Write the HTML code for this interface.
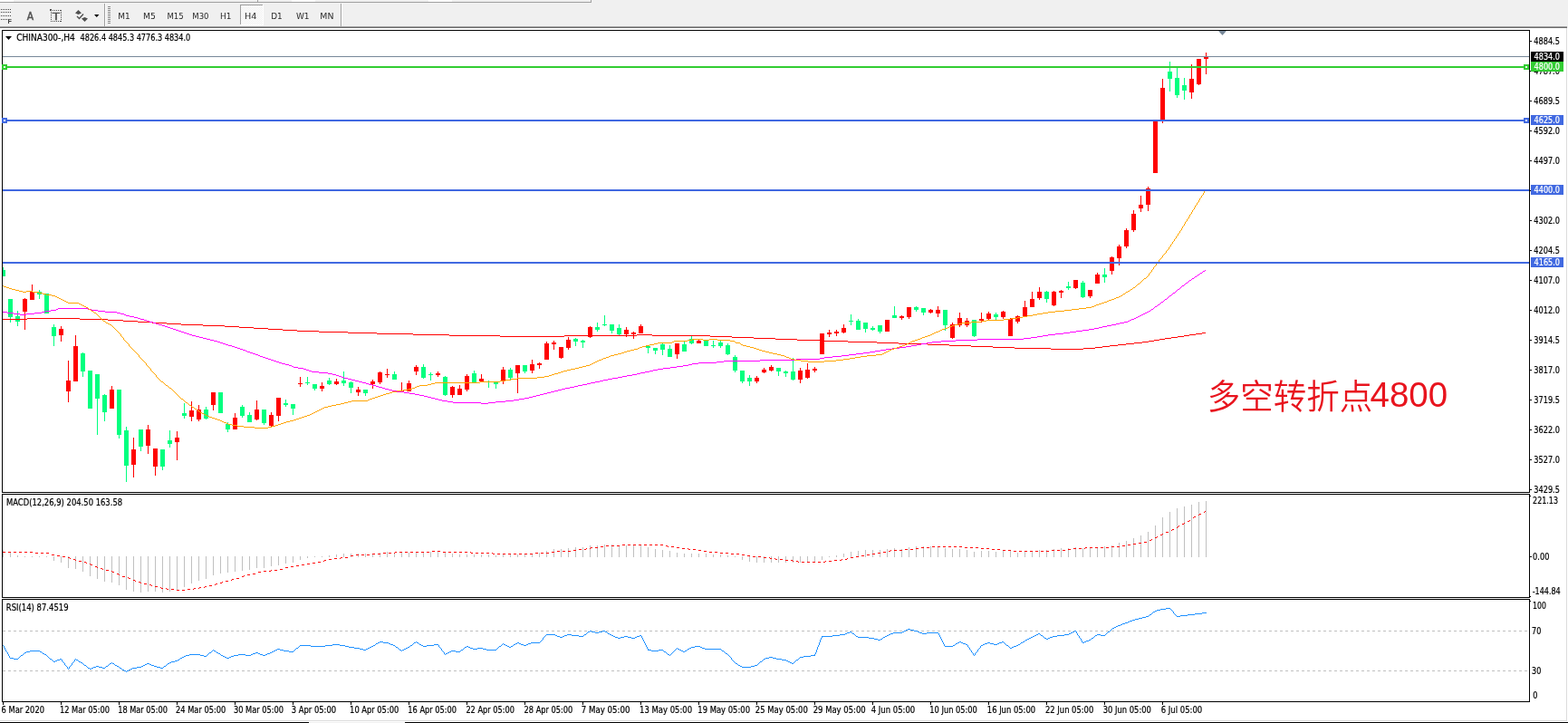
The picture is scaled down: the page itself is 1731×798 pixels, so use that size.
<!DOCTYPE html><html><head><meta charset="utf-8"><title>CHINA300-,H4</title><style>
html,body{margin:0;padding:0;background:#f0f0f0;width:1731px;height:798px;overflow:hidden}
svg{display:block;font-family:'DejaVu Sans Condensed', 'DejaVu Sans', 'Liberation Sans', sans-serif}
</style></head><body>
<svg width="1731" height="798" viewBox="0 0 1731 798">
<defs><clipPath id="cm"><rect x="3" y="34" width="1685" height="509"/></clipPath><clipPath id="cmacd"><rect x="3" y="546" width="1685" height="113"/></clipPath><clipPath id="crsi"><rect x="3" y="662" width="1685" height="112"/></clipPath></defs>
<g shape-rendering="crispEdges">
<rect x="0" y="0" width="1731" height="798" fill="#f0f0f0"/>
<rect x="0" y="0" width="15" height="2" fill="#ffffff"/>
<rect x="322" y="0" width="26" height="2" fill="#ffffff"/>
<rect x="473" y="0" width="26" height="2" fill="#ffffff"/>
<rect x="0" y="2" width="653" height="1" fill="#a0a0a0"/>
<rect x="652" y="0" width="1" height="3" fill="#a0a0a0"/>
<rect x="284" y="0" width="1" height="2" fill="#a0a0a0"/>
<rect x="0" y="29" width="1730" height="1" fill="#a0a0a0"/>
<rect x="0" y="30" width="1730" height="1" fill="#6a6a6a"/>
<rect x="0" y="31" width="1729" height="764" fill="#ffffff"/>
<rect x="1729" y="31" width="1" height="765" fill="#dcdcdc"/>
<rect x="1730" y="31" width="1" height="765" fill="#ffffff"/>
<rect x="0" y="795" width="1730" height="1" fill="#dcdcdc"/>
<rect x="0" y="796" width="1731" height="1" fill="#ffffff"/>
<rect x="0" y="797" width="341" height="1" fill="#000000"/>
<rect x="447" y="797" width="1284" height="1" fill="#000000"/>
</g>
<g shape-rendering="crispEdges">
<rect x="115" y="4" width="1" height="25" fill="#a0a0a0"/>
<rect x="116" y="4" width="1" height="25" fill="#ffffff"/>
<rect x="376" y="4" width="1" height="25" fill="#a0a0a0"/>
<rect x="377" y="4" width="1" height="25" fill="#ffffff"/>
<rect x="119" y="7" width="3" height="1" fill="#8a8a8a"/>
<rect x="119" y="9" width="3" height="1" fill="#8a8a8a"/>
<rect x="119" y="11" width="3" height="1" fill="#8a8a8a"/>
<rect x="119" y="13" width="3" height="1" fill="#8a8a8a"/>
<rect x="119" y="15" width="3" height="1" fill="#8a8a8a"/>
<rect x="119" y="17" width="3" height="1" fill="#8a8a8a"/>
<rect x="119" y="19" width="3" height="1" fill="#8a8a8a"/>
<rect x="119" y="21" width="3" height="1" fill="#8a8a8a"/>
<rect x="119" y="23" width="3" height="1" fill="#8a8a8a"/>
<rect x="119" y="25" width="3" height="1" fill="#8a8a8a"/>
<rect x="1" y="10" width="1" height="1" fill="#404040"/>
<rect x="3" y="10" width="1" height="1" fill="#404040"/>
<rect x="5" y="10" width="1" height="1" fill="#404040"/>
<rect x="7" y="10" width="1" height="1" fill="#404040"/>
<rect x="9" y="10" width="1" height="1" fill="#404040"/>
<rect x="11" y="10" width="1" height="1" fill="#404040"/>
<rect x="1" y="13" width="1" height="1" fill="#404040"/>
<rect x="3" y="13" width="1" height="1" fill="#404040"/>
<rect x="5" y="13" width="1" height="1" fill="#404040"/>
<rect x="7" y="13" width="1" height="1" fill="#404040"/>
<rect x="9" y="13" width="1" height="1" fill="#404040"/>
<rect x="11" y="13" width="1" height="1" fill="#404040"/>
<rect x="1" y="17" width="1" height="1" fill="#404040"/>
<rect x="3" y="17" width="1" height="1" fill="#404040"/>
<rect x="5" y="17" width="1" height="1" fill="#404040"/>
<rect x="7" y="17" width="1" height="1" fill="#404040"/>
<rect x="9" y="17" width="1" height="1" fill="#404040"/>
<rect x="11" y="17" width="1" height="1" fill="#404040"/>
<rect x="1" y="21" width="1" height="1" fill="#404040"/>
<rect x="3" y="21" width="1" height="1" fill="#404040"/>
<rect x="5" y="21" width="1" height="1" fill="#404040"/>
<rect x="7" y="21" width="1" height="1" fill="#404040"/>
</g>
<text x="8.6" y="26.1" font-size="7" fill="#404040" textLength="4.4" lengthAdjust="spacingAndGlyphs" font-family="Liberation Sans" font-weight="bold">F</text>
<text x="29.8" y="22" font-size="12" fill="#555555" stroke="#555555" stroke-width="0.45">A</text>
<g shape-rendering="crispEdges">
<rect x="56" y="11" width="1" height="1" fill="#505050"/>
<rect x="56" y="23" width="1" height="1" fill="#505050"/>
<rect x="58" y="11" width="1" height="1" fill="#505050"/>
<rect x="58" y="23" width="1" height="1" fill="#505050"/>
<rect x="60" y="11" width="1" height="1" fill="#505050"/>
<rect x="60" y="23" width="1" height="1" fill="#505050"/>
<rect x="62" y="11" width="1" height="1" fill="#505050"/>
<rect x="62" y="23" width="1" height="1" fill="#505050"/>
<rect x="64" y="11" width="1" height="1" fill="#505050"/>
<rect x="64" y="23" width="1" height="1" fill="#505050"/>
<rect x="66" y="11" width="1" height="1" fill="#505050"/>
<rect x="66" y="23" width="1" height="1" fill="#505050"/>
<rect x="56" y="11" width="1" height="1" fill="#505050"/>
<rect x="67" y="11" width="1" height="1" fill="#505050"/>
<rect x="56" y="13" width="1" height="1" fill="#505050"/>
<rect x="67" y="13" width="1" height="1" fill="#505050"/>
<rect x="56" y="15" width="1" height="1" fill="#505050"/>
<rect x="67" y="15" width="1" height="1" fill="#505050"/>
<rect x="56" y="17" width="1" height="1" fill="#505050"/>
<rect x="67" y="17" width="1" height="1" fill="#505050"/>
<rect x="56" y="19" width="1" height="1" fill="#505050"/>
<rect x="67" y="19" width="1" height="1" fill="#505050"/>
<rect x="56" y="21" width="1" height="1" fill="#505050"/>
<rect x="67" y="21" width="1" height="1" fill="#505050"/>
<rect x="56" y="23" width="1" height="1" fill="#505050"/>
<rect x="67" y="23" width="1" height="1" fill="#505050"/>
<rect x="55" y="10" width="2" height="2" fill="#505050"/>
</g>
<text x="57.6" y="22" font-size="11.5" fill="#505050" textLength="8.8" lengthAdjust="spacingAndGlyphs" font-family="Liberation Sans" stroke="#505050" stroke-width="0.5">T</text>
<g fill="#505050">
<polygon points="83,14.5 86.5,11 90,14.5 86.5,16"/>
<polygon points="90,20.5 93.5,19 97,20.5 93.5,24"/>
</g>
<polyline points="85,18 87.5,20.5 92,15.5" fill="none" stroke="#505050" stroke-width="1.4"/>
<polygon points="104,16 109.5,16 106.75,19" fill="#000"/>
<g shape-rendering="crispEdges">
<defs><pattern id="chk" x="0" y="0" width="2" height="2" patternUnits="userSpaceOnUse"><rect width="2" height="2" fill="#ffffff"/><rect width="1" height="1" fill="#f0f0f0"/><rect x="1" y="1" width="1" height="1" fill="#f0f0f0"/></pattern></defs>
<rect x="265" y="5" width="26" height="23" fill="#ffffff"/>
<rect x="266" y="6" width="24" height="21" fill="url(#chk)"/>
<rect x="265" y="5" width="25" height="1" fill="#a0a0a0"/>
<rect x="265" y="5" width="1" height="22" fill="#a0a0a0"/>
</g>
<text x="130.2" y="21.3" font-size="9.3" fill="#2a2a2a" textLength="13.4" lengthAdjust="spacingAndGlyphs" >M1</text>
<text x="158.1" y="21.3" font-size="9.3" fill="#2a2a2a" textLength="13.8" lengthAdjust="spacingAndGlyphs" >M5</text>
<text x="184.4" y="21.3" font-size="9.3" fill="#2a2a2a" textLength="18.2" lengthAdjust="spacingAndGlyphs" >M15</text>
<text x="212.3" y="21.3" font-size="9.3" fill="#2a2a2a" textLength="18.2" lengthAdjust="spacingAndGlyphs" >M30</text>
<text x="243.1" y="21.3" font-size="9.3" fill="#2a2a2a" textLength="12.4" lengthAdjust="spacingAndGlyphs" >H1</text>
<text x="270.1" y="21.3" font-size="9.3" fill="#2a2a2a" textLength="13.4" lengthAdjust="spacingAndGlyphs" >H4</text>
<text x="299.2" y="21.3" font-size="9.3" fill="#2a2a2a" textLength="12.5" lengthAdjust="spacingAndGlyphs" >D1</text>
<text x="326.9" y="21.3" font-size="9.3" fill="#2a2a2a" textLength="14.7" lengthAdjust="spacingAndGlyphs" >W1</text>
<text x="353.3" y="21.3" font-size="9.3" fill="#2a2a2a" textLength="15.1" lengthAdjust="spacingAndGlyphs" >MN</text>
<g shape-rendering="crispEdges" fill="#000">
<rect x="2" y="33" width="1687" height="1"/>
<rect x="2" y="543" width="1687" height="1"/>
<rect x="2" y="33" width="1" height="511"/>
<rect x="1688" y="33" width="1" height="511"/>
<rect x="2" y="545" width="1687" height="1"/>
<rect x="2" y="659" width="1687" height="1"/>
<rect x="2" y="545" width="1" height="115"/>
<rect x="1688" y="545" width="1" height="115"/>
<rect x="2" y="661" width="1687" height="1"/>
<rect x="2" y="774" width="1687" height="1"/>
<rect x="2" y="661" width="1" height="114"/>
<rect x="1688" y="661" width="1" height="114"/>
<rect x="1689" y="45" width="2" height="1"/>
<rect x="1689" y="78" width="2" height="1"/>
<rect x="1689" y="111" width="2" height="1"/>
<rect x="1689" y="144" width="2" height="1"/>
<rect x="1689" y="177" width="2" height="1"/>
<rect x="1689" y="210" width="2" height="1"/>
<rect x="1689" y="243" width="2" height="1"/>
<rect x="1689" y="276" width="2" height="1"/>
<rect x="1689" y="309" width="2" height="1"/>
<rect x="1689" y="342" width="2" height="1"/>
<rect x="1689" y="375" width="2" height="1"/>
<rect x="1689" y="408" width="2" height="1"/>
<rect x="1689" y="441" width="2" height="1"/>
<rect x="1689" y="474" width="2" height="1"/>
<rect x="1689" y="507" width="2" height="1"/>
<rect x="1689" y="540" width="2" height="1"/>
<rect x="1689" y="547" width="1" height="1"/>
<rect x="1689" y="614" width="2" height="1"/>
<rect x="1689" y="658" width="1" height="1"/>
<rect x="1689" y="663" width="1" height="1"/>
<rect x="3" y="775" width="1" height="3"/>
<rect x="67" y="775" width="1" height="3"/>
<rect x="131" y="775" width="1" height="3"/>
<rect x="195" y="775" width="1" height="3"/>
<rect x="259" y="775" width="1" height="3"/>
<rect x="323" y="775" width="1" height="3"/>
<rect x="387" y="775" width="1" height="3"/>
<rect x="451" y="775" width="1" height="3"/>
<rect x="515" y="775" width="1" height="3"/>
<rect x="579" y="775" width="1" height="3"/>
<rect x="643" y="775" width="1" height="3"/>
<rect x="707" y="775" width="1" height="3"/>
<rect x="771" y="775" width="1" height="3"/>
<rect x="835" y="775" width="1" height="3"/>
<rect x="899" y="775" width="1" height="3"/>
<rect x="963" y="775" width="1" height="3"/>
<rect x="1027" y="775" width="1" height="3"/>
<rect x="1091" y="775" width="1" height="3"/>
<rect x="1155" y="775" width="1" height="3"/>
<rect x="1219" y="775" width="1" height="3"/>
<rect x="1283" y="775" width="1" height="3"/>
</g>
<g clip-path="url(#cm)">
<g shape-rendering="crispEdges">
<rect x="3" y="295" width="1" height="10" fill="#00FF7F"/>
<rect x="1" y="298" width="5" height="7" fill="#00FF7F"/>
<rect x="11" y="330" width="1" height="26" fill="#00FF7F"/>
<rect x="9" y="330" width="5" height="20" fill="#00FF7F"/>
<rect x="19" y="343" width="1" height="17" fill="#00FF7F"/>
<rect x="17" y="349" width="5" height="6" fill="#00FF7F"/>
<rect x="27" y="329" width="1" height="35" fill="#FF0000"/>
<rect x="25" y="330" width="5" height="14" fill="#FF0000"/>
<rect x="35" y="314" width="1" height="17" fill="#FF0000"/>
<rect x="33" y="322" width="5" height="9" fill="#FF0000"/>
<rect x="43" y="320" width="1" height="10" fill="#00FF7F"/>
<rect x="41" y="322" width="5" height="3" fill="#00FF7F"/>
<rect x="51" y="324" width="1" height="22" fill="#00FF7F"/>
<rect x="49" y="324" width="5" height="22" fill="#00FF7F"/>
<rect x="59" y="358" width="1" height="24" fill="#00FF7F"/>
<rect x="57" y="361" width="5" height="10" fill="#00FF7F"/>
<rect x="67" y="360" width="1" height="17" fill="#FF0000"/>
<rect x="65" y="363" width="5" height="7" fill="#FF0000"/>
<rect x="75" y="398" width="1" height="46" fill="#FF0000"/>
<rect x="73" y="420" width="5" height="12" fill="#FF0000"/>
<rect x="83" y="370" width="1" height="51" fill="#FF0000"/>
<rect x="81" y="382" width="5" height="39" fill="#FF0000"/>
<rect x="91" y="389" width="1" height="27" fill="#00FF7F"/>
<rect x="89" y="390" width="5" height="20" fill="#00FF7F"/>
<rect x="99" y="409" width="1" height="42" fill="#00FF7F"/>
<rect x="97" y="409" width="5" height="42" fill="#00FF7F"/>
<rect x="107" y="413" width="1" height="67" fill="#00FF7F"/>
<rect x="105" y="413" width="5" height="27" fill="#00FF7F"/>
<rect x="115" y="435" width="1" height="30" fill="#00FF7F"/>
<rect x="113" y="436" width="5" height="19" fill="#00FF7F"/>
<rect x="123" y="426" width="1" height="25" fill="#FF0000"/>
<rect x="121" y="430" width="5" height="21" fill="#FF0000"/>
<rect x="131" y="430" width="1" height="54" fill="#00FF7F"/>
<rect x="129" y="430" width="5" height="50" fill="#00FF7F"/>
<rect x="139" y="471" width="1" height="61" fill="#00FF7F"/>
<rect x="137" y="475" width="5" height="39" fill="#00FF7F"/>
<rect x="147" y="483" width="1" height="44" fill="#FF0000"/>
<rect x="145" y="496" width="5" height="17" fill="#FF0000"/>
<rect x="155" y="474" width="1" height="24" fill="#00FF7F"/>
<rect x="153" y="474" width="5" height="19" fill="#00FF7F"/>
<rect x="163" y="469" width="1" height="32" fill="#FF0000"/>
<rect x="161" y="474" width="5" height="18" fill="#FF0000"/>
<rect x="171" y="495" width="1" height="30" fill="#FF0000"/>
<rect x="169" y="495" width="5" height="20" fill="#FF0000"/>
<rect x="179" y="496" width="1" height="23" fill="#00FF7F"/>
<rect x="177" y="496" width="5" height="19" fill="#00FF7F"/>
<rect x="187" y="475" width="1" height="19" fill="#00FF7F"/>
<rect x="185" y="486" width="5" height="4" fill="#00FF7F"/>
<rect x="195" y="476" width="1" height="32" fill="#FF0000"/>
<rect x="193" y="483" width="5" height="5" fill="#FF0000"/>
<rect x="203" y="445" width="1" height="17" fill="#00FF7F"/>
<rect x="201" y="456" width="5" height="3" fill="#00FF7F"/>
<rect x="211" y="443" width="1" height="22" fill="#FF0000"/>
<rect x="209" y="453" width="5" height="7" fill="#FF0000"/>
<rect x="219" y="447" width="1" height="18" fill="#FF0000"/>
<rect x="217" y="452" width="5" height="11" fill="#FF0000"/>
<rect x="227" y="449" width="1" height="14" fill="#00FF7F"/>
<rect x="225" y="452" width="5" height="10" fill="#00FF7F"/>
<rect x="235" y="433" width="1" height="20" fill="#FF0000"/>
<rect x="233" y="433" width="5" height="14" fill="#FF0000"/>
<rect x="243" y="433" width="1" height="23" fill="#00FF7F"/>
<rect x="241" y="433" width="5" height="23" fill="#00FF7F"/>
<rect x="251" y="466" width="1" height="11" fill="#00FF7F"/>
<rect x="249" y="468" width="5" height="6" fill="#00FF7F"/>
<rect x="259" y="456" width="1" height="18" fill="#FF0000"/>
<rect x="257" y="461" width="5" height="13" fill="#FF0000"/>
<rect x="267" y="447" width="1" height="14" fill="#00FF7F"/>
<rect x="265" y="449" width="5" height="10" fill="#00FF7F"/>
<rect x="275" y="455" width="1" height="11" fill="#00FF7F"/>
<rect x="273" y="458" width="5" height="8" fill="#00FF7F"/>
<rect x="283" y="442" width="1" height="22" fill="#FF0000"/>
<rect x="281" y="452" width="5" height="11" fill="#FF0000"/>
<rect x="291" y="452" width="1" height="17" fill="#00FF7F"/>
<rect x="289" y="452" width="5" height="15" fill="#00FF7F"/>
<rect x="299" y="455" width="1" height="16" fill="#FF0000"/>
<rect x="297" y="458" width="5" height="12" fill="#FF0000"/>
<rect x="307" y="439" width="1" height="26" fill="#FF0000"/>
<rect x="305" y="439" width="5" height="20" fill="#FF0000"/>
<rect x="315" y="441" width="1" height="8" fill="#00FF7F"/>
<rect x="313" y="445" width="5" height="2" fill="#00FF7F"/>
<rect x="323" y="446" width="1" height="12" fill="#00FF7F"/>
<rect x="321" y="446" width="5" height="5" fill="#00FF7F"/>
<rect x="331" y="416" width="1" height="11" fill="#FF0000"/>
<rect x="329" y="423" width="5" height="1" fill="#FF0000"/>
<rect x="339" y="416" width="1" height="9" fill="#00FF7F"/>
<rect x="337" y="422" width="5" height="1" fill="#00FF7F"/>
<rect x="347" y="424" width="1" height="7" fill="#00FF7F"/>
<rect x="345" y="424" width="5" height="5" fill="#00FF7F"/>
<rect x="355" y="422" width="1" height="10" fill="#FF0000"/>
<rect x="353" y="426" width="5" height="3" fill="#FF0000"/>
<rect x="363" y="417" width="1" height="8" fill="#00FF7F"/>
<rect x="361" y="420" width="5" height="4" fill="#00FF7F"/>
<rect x="371" y="418" width="1" height="7" fill="#FF0000"/>
<rect x="369" y="421" width="5" height="3" fill="#FF0000"/>
<rect x="379" y="410" width="1" height="16" fill="#00FF7F"/>
<rect x="377" y="420" width="5" height="3" fill="#00FF7F"/>
<rect x="387" y="421" width="1" height="13" fill="#00FF7F"/>
<rect x="385" y="422" width="5" height="6" fill="#00FF7F"/>
<rect x="395" y="427" width="1" height="10" fill="#FF0000"/>
<rect x="393" y="430" width="5" height="3" fill="#FF0000"/>
<rect x="403" y="430" width="1" height="7" fill="#00FF7F"/>
<rect x="401" y="430" width="5" height="4" fill="#00FF7F"/>
<rect x="411" y="419" width="1" height="10" fill="#FF0000"/>
<rect x="409" y="421" width="5" height="3" fill="#FF0000"/>
<rect x="419" y="410" width="1" height="14" fill="#FF0000"/>
<rect x="417" y="411" width="5" height="11" fill="#FF0000"/>
<rect x="427" y="407" width="1" height="10" fill="#FF0000"/>
<rect x="425" y="413" width="5" height="1" fill="#FF0000"/>
<rect x="435" y="410" width="1" height="9" fill="#00FF7F"/>
<rect x="433" y="413" width="5" height="6" fill="#00FF7F"/>
<rect x="443" y="422" width="1" height="10" fill="#FF0000"/>
<rect x="441" y="431" width="5" height="1" fill="#FF0000"/>
<rect x="451" y="420" width="1" height="12" fill="#FF0000"/>
<rect x="449" y="423" width="5" height="9" fill="#FF0000"/>
<rect x="459" y="403" width="1" height="11" fill="#FF0000"/>
<rect x="457" y="405" width="5" height="5" fill="#FF0000"/>
<rect x="467" y="402" width="1" height="16" fill="#00FF7F"/>
<rect x="465" y="405" width="5" height="12" fill="#00FF7F"/>
<rect x="475" y="411" width="1" height="9" fill="#00FF7F"/>
<rect x="473" y="413" width="5" height="1" fill="#00FF7F"/>
<rect x="483" y="410" width="1" height="6" fill="#FF0000"/>
<rect x="481" y="412" width="5" height="2" fill="#FF0000"/>
<rect x="491" y="415" width="1" height="22" fill="#00FF7F"/>
<rect x="489" y="416" width="5" height="20" fill="#00FF7F"/>
<rect x="499" y="426" width="1" height="13" fill="#FF0000"/>
<rect x="497" y="427" width="5" height="9" fill="#FF0000"/>
<rect x="507" y="425" width="1" height="11" fill="#FF0000"/>
<rect x="505" y="429" width="5" height="7" fill="#FF0000"/>
<rect x="515" y="413" width="1" height="19" fill="#FF0000"/>
<rect x="513" y="415" width="5" height="15" fill="#FF0000"/>
<rect x="523" y="409" width="1" height="14" fill="#00FF7F"/>
<rect x="521" y="412" width="5" height="10" fill="#00FF7F"/>
<rect x="531" y="413" width="1" height="8" fill="#FF0000"/>
<rect x="529" y="418" width="5" height="3" fill="#FF0000"/>
<rect x="539" y="420" width="1" height="8" fill="#00FF7F"/>
<rect x="537" y="421" width="5" height="1" fill="#00FF7F"/>
<rect x="547" y="421" width="1" height="8" fill="#00FF7F"/>
<rect x="545" y="421" width="5" height="3" fill="#00FF7F"/>
<rect x="555" y="405" width="1" height="19" fill="#FF0000"/>
<rect x="553" y="408" width="5" height="12" fill="#FF0000"/>
<rect x="563" y="406" width="1" height="13" fill="#00FF7F"/>
<rect x="561" y="408" width="5" height="9" fill="#00FF7F"/>
<rect x="571" y="403" width="1" height="31" fill="#FF0000"/>
<rect x="569" y="403" width="5" height="9" fill="#FF0000"/>
<rect x="579" y="403" width="1" height="9" fill="#00FF7F"/>
<rect x="577" y="403" width="5" height="7" fill="#00FF7F"/>
<rect x="587" y="397" width="1" height="15" fill="#FF0000"/>
<rect x="585" y="402" width="5" height="7" fill="#FF0000"/>
<rect x="595" y="400" width="1" height="7" fill="#FF0000"/>
<rect x="593" y="401" width="5" height="2" fill="#FF0000"/>
<rect x="603" y="377" width="1" height="20" fill="#FF0000"/>
<rect x="601" y="379" width="5" height="18" fill="#FF0000"/>
<rect x="611" y="376" width="1" height="10" fill="#FF0000"/>
<rect x="609" y="378" width="5" height="2" fill="#FF0000"/>
<rect x="619" y="383" width="1" height="13" fill="#FF0000"/>
<rect x="617" y="383" width="5" height="12" fill="#FF0000"/>
<rect x="627" y="372" width="1" height="14" fill="#FF0000"/>
<rect x="625" y="375" width="5" height="9" fill="#FF0000"/>
<rect x="635" y="373" width="1" height="9" fill="#00FF7F"/>
<rect x="633" y="374" width="5" height="3" fill="#00FF7F"/>
<rect x="643" y="375" width="1" height="9" fill="#00FF7F"/>
<rect x="641" y="376" width="5" height="2" fill="#00FF7F"/>
<rect x="651" y="360" width="1" height="13" fill="#FF0000"/>
<rect x="649" y="361" width="5" height="11" fill="#FF0000"/>
<rect x="659" y="356" width="1" height="10" fill="#00FF7F"/>
<rect x="657" y="361" width="5" height="3" fill="#00FF7F"/>
<rect x="667" y="348" width="1" height="12" fill="#00FF7F"/>
<rect x="665" y="358" width="5" height="1" fill="#00FF7F"/>
<rect x="675" y="358" width="1" height="10" fill="#00FF7F"/>
<rect x="673" y="358" width="5" height="7" fill="#00FF7F"/>
<rect x="683" y="358" width="1" height="12" fill="#00FF7F"/>
<rect x="681" y="362" width="5" height="7" fill="#00FF7F"/>
<rect x="691" y="361" width="1" height="11" fill="#FF0000"/>
<rect x="689" y="364" width="5" height="5" fill="#FF0000"/>
<rect x="699" y="366" width="1" height="8" fill="#FF0000"/>
<rect x="697" y="367" width="5" height="2" fill="#FF0000"/>
<rect x="707" y="358" width="1" height="10" fill="#FF0000"/>
<rect x="705" y="360" width="5" height="8" fill="#FF0000"/>
<rect x="715" y="382" width="1" height="8" fill="#00FF7F"/>
<rect x="713" y="382" width="5" height="2" fill="#00FF7F"/>
<rect x="723" y="384" width="1" height="7" fill="#00FF7F"/>
<rect x="721" y="384" width="5" height="3" fill="#00FF7F"/>
<rect x="731" y="379" width="1" height="13" fill="#00FF7F"/>
<rect x="729" y="380" width="5" height="6" fill="#00FF7F"/>
<rect x="739" y="381" width="1" height="13" fill="#00FF7F"/>
<rect x="737" y="385" width="5" height="9" fill="#00FF7F"/>
<rect x="747" y="379" width="1" height="17" fill="#FF0000"/>
<rect x="745" y="379" width="5" height="12" fill="#FF0000"/>
<rect x="755" y="377" width="1" height="11" fill="#00FF7F"/>
<rect x="753" y="380" width="5" height="8" fill="#00FF7F"/>
<rect x="763" y="371" width="1" height="9" fill="#00FF7F"/>
<rect x="761" y="374" width="5" height="5" fill="#00FF7F"/>
<rect x="771" y="375" width="1" height="4" fill="#FF0000"/>
<rect x="769" y="376" width="5" height="3" fill="#FF0000"/>
<rect x="779" y="376" width="1" height="6" fill="#00FF7F"/>
<rect x="777" y="376" width="5" height="6" fill="#00FF7F"/>
<rect x="787" y="376" width="1" height="8" fill="#00FF7F"/>
<rect x="785" y="381" width="5" height="1" fill="#00FF7F"/>
<rect x="795" y="376" width="1" height="8" fill="#00FF7F"/>
<rect x="793" y="378" width="5" height="4" fill="#00FF7F"/>
<rect x="803" y="379" width="1" height="13" fill="#00FF7F"/>
<rect x="801" y="381" width="5" height="10" fill="#00FF7F"/>
<rect x="811" y="392" width="1" height="19" fill="#00FF7F"/>
<rect x="809" y="394" width="5" height="15" fill="#00FF7F"/>
<rect x="819" y="409" width="1" height="14" fill="#00FF7F"/>
<rect x="817" y="409" width="5" height="12" fill="#00FF7F"/>
<rect x="827" y="414" width="1" height="12" fill="#00FF7F"/>
<rect x="825" y="417" width="5" height="4" fill="#00FF7F"/>
<rect x="835" y="415" width="1" height="8" fill="#FF0000"/>
<rect x="833" y="417" width="5" height="4" fill="#FF0000"/>
<rect x="843" y="406" width="1" height="6" fill="#FF0000"/>
<rect x="841" y="408" width="5" height="3" fill="#FF0000"/>
<rect x="851" y="403" width="1" height="7" fill="#FF0000"/>
<rect x="849" y="405" width="5" height="4" fill="#FF0000"/>
<rect x="859" y="406" width="1" height="9" fill="#00FF7F"/>
<rect x="857" y="406" width="5" height="4" fill="#00FF7F"/>
<rect x="867" y="409" width="1" height="7" fill="#00FF7F"/>
<rect x="865" y="410" width="5" height="2" fill="#00FF7F"/>
<rect x="875" y="395" width="1" height="25" fill="#00FF7F"/>
<rect x="873" y="410" width="5" height="9" fill="#00FF7F"/>
<rect x="883" y="406" width="1" height="17" fill="#FF0000"/>
<rect x="881" y="409" width="5" height="10" fill="#FF0000"/>
<rect x="891" y="401" width="1" height="17" fill="#FF0000"/>
<rect x="889" y="408" width="5" height="9" fill="#FF0000"/>
<rect x="899" y="405" width="1" height="6" fill="#FF0000"/>
<rect x="897" y="407" width="5" height="2" fill="#FF0000"/>
<rect x="907" y="368" width="1" height="23" fill="#FF0000"/>
<rect x="905" y="368" width="5" height="23" fill="#FF0000"/>
<rect x="915" y="364" width="1" height="8" fill="#FF0000"/>
<rect x="913" y="367" width="5" height="2" fill="#FF0000"/>
<rect x="923" y="364" width="1" height="7" fill="#FF0000"/>
<rect x="921" y="366" width="5" height="2" fill="#FF0000"/>
<rect x="931" y="358" width="1" height="10" fill="#FF0000"/>
<rect x="929" y="362" width="5" height="5" fill="#FF0000"/>
<rect x="939" y="347" width="1" height="12" fill="#00FF7F"/>
<rect x="937" y="354" width="5" height="1" fill="#00FF7F"/>
<rect x="947" y="352" width="1" height="12" fill="#00FF7F"/>
<rect x="945" y="354" width="5" height="10" fill="#00FF7F"/>
<rect x="955" y="356" width="1" height="11" fill="#00FF7F"/>
<rect x="953" y="356" width="5" height="7" fill="#00FF7F"/>
<rect x="963" y="360" width="1" height="5" fill="#00FF7F"/>
<rect x="961" y="362" width="5" height="2" fill="#00FF7F"/>
<rect x="971" y="359" width="1" height="9" fill="#00FF7F"/>
<rect x="969" y="359" width="5" height="7" fill="#00FF7F"/>
<rect x="979" y="353" width="1" height="13" fill="#FF0000"/>
<rect x="977" y="353" width="5" height="13" fill="#FF0000"/>
<rect x="987" y="338" width="1" height="13" fill="#00FF7F"/>
<rect x="985" y="348" width="5" height="3" fill="#00FF7F"/>
<rect x="995" y="348" width="1" height="5" fill="#FF0000"/>
<rect x="993" y="349" width="5" height="2" fill="#FF0000"/>
<rect x="1003" y="339" width="1" height="13" fill="#FF0000"/>
<rect x="1001" y="339" width="5" height="11" fill="#FF0000"/>
<rect x="1011" y="338" width="1" height="6" fill="#00FF7F"/>
<rect x="1009" y="339" width="5" height="3" fill="#00FF7F"/>
<rect x="1019" y="340" width="1" height="8" fill="#00FF7F"/>
<rect x="1017" y="340" width="5" height="5" fill="#00FF7F"/>
<rect x="1027" y="341" width="1" height="5" fill="#FF0000"/>
<rect x="1025" y="342" width="5" height="3" fill="#FF0000"/>
<rect x="1035" y="338" width="1" height="12" fill="#FF0000"/>
<rect x="1033" y="342" width="5" height="4" fill="#FF0000"/>
<rect x="1043" y="342" width="1" height="23" fill="#00FF7F"/>
<rect x="1041" y="342" width="5" height="17" fill="#00FF7F"/>
<rect x="1051" y="356" width="1" height="18" fill="#FF0000"/>
<rect x="1049" y="358" width="5" height="15" fill="#FF0000"/>
<rect x="1059" y="345" width="1" height="16" fill="#FF0000"/>
<rect x="1057" y="351" width="5" height="8" fill="#FF0000"/>
<rect x="1067" y="351" width="1" height="10" fill="#FF0000"/>
<rect x="1065" y="354" width="5" height="5" fill="#FF0000"/>
<rect x="1075" y="353" width="1" height="19" fill="#00FF7F"/>
<rect x="1073" y="353" width="5" height="18" fill="#00FF7F"/>
<rect x="1083" y="345" width="1" height="11" fill="#FF0000"/>
<rect x="1081" y="352" width="5" height="2" fill="#FF0000"/>
<rect x="1091" y="344" width="1" height="9" fill="#FF0000"/>
<rect x="1089" y="346" width="5" height="6" fill="#FF0000"/>
<rect x="1099" y="345" width="1" height="8" fill="#00FF7F"/>
<rect x="1097" y="347" width="5" height="3" fill="#00FF7F"/>
<rect x="1107" y="343" width="1" height="9" fill="#FF0000"/>
<rect x="1105" y="344" width="5" height="6" fill="#FF0000"/>
<rect x="1115" y="351" width="1" height="20" fill="#FF0000"/>
<rect x="1113" y="352" width="5" height="19" fill="#FF0000"/>
<rect x="1123" y="348" width="1" height="9" fill="#FF0000"/>
<rect x="1121" y="349" width="5" height="6" fill="#FF0000"/>
<rect x="1131" y="332" width="1" height="17" fill="#FF0000"/>
<rect x="1129" y="339" width="5" height="10" fill="#FF0000"/>
<rect x="1139" y="322" width="1" height="17" fill="#FF0000"/>
<rect x="1137" y="330" width="5" height="9" fill="#FF0000"/>
<rect x="1147" y="317" width="1" height="14" fill="#FF0000"/>
<rect x="1145" y="322" width="5" height="7" fill="#FF0000"/>
<rect x="1155" y="321" width="1" height="13" fill="#00FF7F"/>
<rect x="1153" y="322" width="5" height="8" fill="#00FF7F"/>
<rect x="1163" y="321" width="1" height="17" fill="#FF0000"/>
<rect x="1161" y="322" width="5" height="15" fill="#FF0000"/>
<rect x="1171" y="320" width="1" height="9" fill="#FF0000"/>
<rect x="1169" y="321" width="5" height="2" fill="#FF0000"/>
<rect x="1179" y="311" width="1" height="9" fill="#00FF7F"/>
<rect x="1177" y="316" width="5" height="2" fill="#00FF7F"/>
<rect x="1187" y="309" width="1" height="10" fill="#FF0000"/>
<rect x="1185" y="309" width="5" height="9" fill="#FF0000"/>
<rect x="1195" y="310" width="1" height="19" fill="#00FF7F"/>
<rect x="1193" y="312" width="5" height="16" fill="#00FF7F"/>
<rect x="1203" y="320" width="1" height="9" fill="#FF0000"/>
<rect x="1201" y="320" width="5" height="7" fill="#FF0000"/>
<rect x="1211" y="301" width="1" height="12" fill="#FF0000"/>
<rect x="1209" y="303" width="5" height="10" fill="#FF0000"/>
<rect x="1219" y="296" width="1" height="16" fill="#00FF7F"/>
<rect x="1217" y="303" width="5" height="3" fill="#00FF7F"/>
<rect x="1227" y="283" width="1" height="20" fill="#FF0000"/>
<rect x="1225" y="284" width="5" height="15" fill="#FF0000"/>
<rect x="1235" y="270" width="1" height="23" fill="#FF0000"/>
<rect x="1233" y="272" width="5" height="13" fill="#FF0000"/>
<rect x="1243" y="252" width="1" height="22" fill="#FF0000"/>
<rect x="1241" y="254" width="5" height="18" fill="#FF0000"/>
<rect x="1251" y="232" width="1" height="24" fill="#FF0000"/>
<rect x="1249" y="236" width="5" height="18" fill="#FF0000"/>
<rect x="1259" y="216" width="1" height="18" fill="#FF0000"/>
<rect x="1257" y="226" width="5" height="4" fill="#FF0000"/>
<rect x="1267" y="206" width="1" height="27" fill="#FF0000"/>
<rect x="1265" y="208" width="5" height="18" fill="#FF0000"/>
<rect x="1275" y="133" width="1" height="58" fill="#FF0000"/>
<rect x="1273" y="133" width="5" height="58" fill="#FF0000"/>
<rect x="1283" y="87" width="1" height="49" fill="#FF0000"/>
<rect x="1281" y="97" width="5" height="36" fill="#FF0000"/>
<rect x="1291" y="68" width="1" height="33" fill="#00FF7F"/>
<rect x="1289" y="79" width="5" height="8" fill="#00FF7F"/>
<rect x="1299" y="74" width="1" height="34" fill="#00FF7F"/>
<rect x="1297" y="86" width="5" height="19" fill="#00FF7F"/>
<rect x="1307" y="86" width="1" height="24" fill="#00FF7F"/>
<rect x="1305" y="94" width="5" height="6" fill="#00FF7F"/>
<rect x="1315" y="71" width="1" height="38" fill="#FF0000"/>
<rect x="1313" y="87" width="5" height="15" fill="#FF0000"/>
<rect x="1323" y="65" width="1" height="29" fill="#FF0000"/>
<rect x="1321" y="65" width="5" height="28" fill="#FF0000"/>
<rect x="1331" y="58" width="1" height="24" fill="#FF0000"/>
<rect x="1329" y="62" width="5" height="3" fill="#FF0000"/>
</g>
<g fill="#FF0000" shape-rendering="crispEdges"><rect x="3" y="352" width="27" height="1"/><rect x="30" y="351" width="58" height="1"/><rect x="88" y="352" width="31" height="1"/><rect x="119" y="353" width="17" height="1"/><rect x="136" y="354" width="16" height="1"/><rect x="152" y="355" width="16" height="1"/><rect x="168" y="356" width="16" height="1"/><rect x="184" y="357" width="16" height="1"/><rect x="200" y="358" width="24" height="1"/><rect x="224" y="359" width="24" height="1"/><rect x="248" y="360" width="16" height="1"/><rect x="264" y="361" width="16" height="1"/><rect x="280" y="362" width="16" height="1"/><rect x="296" y="363" width="16" height="1"/><rect x="312" y="364" width="16" height="1"/><rect x="328" y="365" width="24" height="1"/><rect x="352" y="366" width="32" height="1"/><rect x="384" y="367" width="32" height="1"/><rect x="416" y="368" width="40" height="1"/><rect x="456" y="369" width="40" height="1"/><rect x="496" y="370" width="56" height="1"/><rect x="552" y="371" width="71" height="1"/><rect x="623" y="370" width="80" height="1"/><rect x="703" y="369" width="17" height="1"/><rect x="720" y="370" width="64" height="1"/><rect x="784" y="371" width="24" height="1"/><rect x="808" y="372" width="24" height="1"/><rect x="832" y="373" width="24" height="1"/><rect x="856" y="374" width="24" height="1"/><rect x="880" y="375" width="25" height="1"/><rect x="905" y="376" width="31" height="1"/><rect x="936" y="377" width="32" height="1"/><rect x="968" y="378" width="24" height="1"/><rect x="992" y="379" width="32" height="1"/><rect x="1024" y="380" width="24" height="1"/><rect x="1048" y="381" width="24" height="1"/><rect x="1072" y="382" width="24" height="1"/><rect x="1096" y="383" width="24" height="1"/><rect x="1120" y="384" width="40" height="1"/><rect x="1160" y="385" width="26" height="1"/></g>
<path d="M1327 367h4v1h-4zM1320 368h7v1h-7zM1313 369h7v1h-7zM1307 370h6v1h-6zM1300 371h7v1h-7zM1293 372h7v1h-7zM1286 373h7v1h-7zM1280 374h6v1h-6zM1274 375h6v1h-6zM1268 376h6v1h-6zM1261 377h7v1h-7zM1252 378h9v1h-9zM1243 379h9v1h-9zM1234 380h9v1h-9zM1225 381h9v1h-9zM1217 382h8v1h-8zM1209 383h8v1h-8zM1196 384h13v1h-13zM1186 385h10v1h-10z" fill="#FF0000" shape-rendering="crispEdges" />
<path d="M1330 298h1v1h-1zM1328 299h2v1h-2zM1327 300h1v1h-1zM1325 301h2v1h-2zM1324 302h1v1h-1zM1322 303h2v1h-2zM1321 304h1v1h-1zM1319 305h2v1h-2zM1318 306h1v1h-1zM1316 307h2v1h-2zM1315 308h1v1h-1zM1313 309h2v1h-2zM1312 310h1v1h-1zM1311 311h1v1h-1zM1309 312h2v1h-2zM1308 313h1v1h-1zM1307 314h1v1h-1zM1305 315h2v1h-2zM1304 316h1v1h-1zM1303 317h1v1h-1zM1302 318h1v1h-1zM1300 319h2v1h-2zM1299 320h1v1h-1zM1298 321h1v1h-1zM1297 322h1v1h-1zM1295 323h2v1h-2zM1294 324h1v1h-1zM1293 325h1v1h-1zM1291 326h2v1h-2zM1290 327h1v1h-1zM1289 328h1v1h-1zM1288 329h1v1h-1zM1286 330h2v1h-2zM1285 331h1v1h-1zM1284 332h1v1h-1zM1282 333h2v1h-2zM1281 334h1v1h-1zM1280 335h1v1h-1zM1278 336h2v1h-2zM1277 337h1v1h-1zM1275 338h2v1h-2zM1274 339h1v1h-1zM64 340h33v1h-33zM1273 340h1v1h-1zM62 341h2v1h-2zM97 341h4v1h-4zM1271 341h2v1h-2zM56 342h6v1h-6zM101 342h7v1h-7zM1270 342h1v1h-1zM50 343h6v1h-6zM108 343h8v1h-8zM1268 343h2v1h-2zM2 344h6v1h-6zM46 344h4v1h-4zM116 344h13v1h-13zM1266 344h2v1h-2zM8 345h7v1h-7zM38 345h8v1h-8zM129 345h4v1h-4zM1264 345h2v1h-2zM15 346h7v1h-7zM29 346h9v1h-9zM133 346h4v1h-4zM1262 346h2v1h-2zM22 347h7v1h-7zM137 347h2v1h-2zM1260 347h2v1h-2zM139 348h4v1h-4zM1258 348h2v1h-2zM143 349h5v1h-5zM1256 349h2v1h-2zM148 350h4v1h-4zM1254 350h2v1h-2zM152 351h3v1h-3zM1252 351h2v1h-2zM155 352h4v1h-4zM1249 352h3v1h-3zM159 353h3v1h-3zM1247 353h2v1h-2zM162 354h3v1h-3zM1245 354h2v1h-2zM165 355h4v1h-4zM1241 355h4v1h-4zM169 356h3v1h-3zM1236 356h5v1h-5zM172 357h3v1h-3zM1232 357h4v1h-4zM175 358h4v1h-4zM1227 358h5v1h-5zM179 359h3v1h-3zM1222 359h5v1h-5zM182 360h3v1h-3zM1217 360h5v1h-5zM185 361h3v1h-3zM1213 361h4v1h-4zM188 362h3v1h-3zM1208 362h5v1h-5zM191 363h3v1h-3zM1202 363h6v1h-6zM194 364h3v1h-3zM1195 364h7v1h-7zM197 365h3v1h-3zM1188 365h7v1h-7zM200 366h3v1h-3zM1181 366h7v1h-7zM203 367h3v1h-3zM1174 367h7v1h-7zM206 368h3v1h-3zM1165 368h9v1h-9zM209 369h3v1h-3zM1157 369h8v1h-8zM212 370h4v1h-4zM1151 370h6v1h-6zM216 371h4v1h-4zM1145 371h6v1h-6zM220 372h4v1h-4zM1138 372h7v1h-7zM224 373h4v1h-4zM1130 373h8v1h-8zM228 374h4v1h-4zM1079 374h51v1h-51zM232 375h4v1h-4zM1055 375h24v1h-24zM236 376h4v1h-4zM1039 376h16v1h-16zM240 377h3v1h-3zM1029 377h10v1h-10zM243 378h3v1h-3zM1023 378h6v1h-6zM246 379h3v1h-3zM1017 379h6v1h-6zM249 380h3v1h-3zM1012 380h5v1h-5zM252 381h4v1h-4zM1006 381h6v1h-6zM256 382h3v1h-3zM1000 382h6v1h-6zM259 383h3v1h-3zM993 383h7v1h-7zM262 384h3v1h-3zM985 384h8v1h-8zM265 385h3v1h-3zM978 385h7v1h-7zM268 386h3v1h-3zM972 386h6v1h-6zM271 387h2v1h-2zM966 387h6v1h-6zM273 388h3v1h-3zM960 388h6v1h-6zM276 389h3v1h-3zM953 389h7v1h-7zM279 390h3v1h-3zM945 390h8v1h-8zM282 391h3v1h-3zM937 391h8v1h-8zM285 392h2v1h-2zM929 392h8v1h-8zM287 393h3v1h-3zM919 393h10v1h-10zM290 394h3v1h-3zM910 394h9v1h-9zM293 395h3v1h-3zM905 395h5v1h-5zM296 396h3v1h-3zM879 396h26v1h-26zM299 397h3v1h-3zM839 397h41v1h-41zM302 398h3v1h-3zM799 398h40v1h-40zM305 399h3v1h-3zM791 399h8v1h-8zM308 400h3v1h-3zM771 400h20v1h-20zM311 401h4v1h-4zM764 401h7v1h-7zM315 402h4v1h-4zM760 402h4v1h-4zM319 403h3v1h-3zM754 403h6v1h-6zM322 404h2v1h-2zM747 404h7v1h-7zM324 405h5v1h-5zM740 405h7v1h-7zM329 406h6v1h-6zM732 406h8v1h-8zM335 407h3v1h-3zM726 407h6v1h-6zM338 408h3v1h-3zM721 408h5v1h-5zM341 409h3v1h-3zM717 409h4v1h-4zM344 410h8v1h-8zM712 410h5v1h-5zM352 411h10v1h-10zM707 411h5v1h-5zM362 412h5v1h-5zM703 412h4v1h-4zM367 413h4v1h-4zM698 413h5v1h-5zM371 414h3v1h-3zM692 414h6v1h-6zM374 415h3v1h-3zM687 415h5v1h-5zM377 416h3v1h-3zM682 416h5v1h-5zM380 417h4v1h-4zM676 417h6v1h-6zM384 418h4v1h-4zM671 418h5v1h-5zM388 419h4v1h-4zM666 419h5v1h-5zM392 420h4v1h-4zM662 420h4v1h-4zM396 421h4v1h-4zM657 421h5v1h-5zM400 422h4v1h-4zM652 422h5v1h-5zM404 423h3v1h-3zM648 423h4v1h-4zM407 424h4v1h-4zM643 424h5v1h-5zM411 425h4v1h-4zM638 425h5v1h-5zM415 426h3v1h-3zM634 426h4v1h-4zM418 427h4v1h-4zM629 427h5v1h-5zM422 428h3v1h-3zM624 428h5v1h-5zM425 429h4v1h-4zM620 429h4v1h-4zM429 430h4v1h-4zM616 430h4v1h-4zM433 431h5v1h-5zM612 431h4v1h-4zM438 432h8v1h-8zM608 432h4v1h-4zM446 433h6v1h-6zM604 433h4v1h-4zM452 434h6v1h-6zM600 434h4v1h-4zM458 435h5v1h-5zM596 435h4v1h-4zM463 436h5v1h-5zM592 436h4v1h-4zM468 437h4v1h-4zM588 437h4v1h-4zM472 438h4v1h-4zM584 438h4v1h-4zM476 439h4v1h-4zM579 439h5v1h-5zM480 440h4v1h-4zM573 440h6v1h-6zM484 441h4v1h-4zM567 441h6v1h-6zM488 442h6v1h-6zM558 442h9v1h-9zM494 443h6v1h-6zM547 443h11v1h-11zM500 444h31v1h-31zM539 444h8v1h-8zM531 445h8v1h-8z" fill="#FF00FF" shape-rendering="crispEdges" />
<path d="M1330 210h1v1h-1zM1329 211h1v1h-1zM1329 212h1v1h-1zM1328 213h1v1h-1zM1328 214h1v1h-1zM1327 215h1v1h-1zM1326 216h1v1h-1zM1326 217h1v1h-1zM1325 218h1v1h-1zM1324 219h1v1h-1zM1324 220h1v1h-1zM1323 221h1v1h-1zM1323 222h1v1h-1zM1322 223h1v1h-1zM1321 224h1v1h-1zM1321 225h1v1h-1zM1320 226h1v1h-1zM1319 227h1v1h-1zM1319 228h1v1h-1zM1318 229h1v1h-1zM1318 230h1v1h-1zM1317 231h1v1h-1zM1316 232h1v1h-1zM1316 233h1v1h-1zM1315 234h1v1h-1zM1315 235h1v1h-1zM1314 236h1v1h-1zM1313 237h1v1h-1zM1313 238h1v1h-1zM1312 239h1v1h-1zM1312 240h1v1h-1zM1311 241h1v1h-1zM1310 242h1v1h-1zM1310 243h1v1h-1zM1309 244h1v1h-1zM1308 245h1v1h-1zM1308 246h1v1h-1zM1307 247h1v1h-1zM1307 248h1v1h-1zM1306 249h1v1h-1zM1305 250h1v1h-1zM1305 251h1v1h-1zM1304 252h1v1h-1zM1304 253h1v1h-1zM1303 254h1v1h-1zM1302 255h1v1h-1zM1302 256h1v1h-1zM1301 257h1v1h-1zM1300 258h1v1h-1zM1300 259h1v1h-1zM1299 260h1v1h-1zM1298 261h1v1h-1zM1298 262h1v1h-1zM1297 263h1v1h-1zM1296 264h1v1h-1zM1296 265h1v1h-1zM1295 266h1v1h-1zM1294 267h1v1h-1zM1294 268h1v1h-1zM1293 269h1v1h-1zM1292 270h1v1h-1zM1292 271h1v1h-1zM1291 272h1v1h-1zM1290 273h1v1h-1zM1290 274h1v1h-1zM1289 275h1v1h-1zM1288 276h1v1h-1zM1287 277h1v1h-1zM1287 278h1v1h-1zM1286 279h1v1h-1zM1285 280h1v1h-1zM1284 281h1v1h-1zM1283 282h1v1h-1zM1283 283h1v1h-1zM1282 284h1v1h-1zM1281 285h1v1h-1zM1280 286h1v1h-1zM1279 287h1v1h-1zM1279 288h1v1h-1zM1278 289h1v1h-1zM1277 290h1v1h-1zM1276 291h1v1h-1zM1276 292h1v1h-1zM1275 293h1v1h-1zM1274 294h1v1h-1zM1273 295h1v1h-1zM1273 296h1v1h-1zM1272 297h1v1h-1zM1271 298h1v1h-1zM1271 299h1v1h-1zM1270 300h1v1h-1zM1269 301h1v1h-1zM1268 302h1v1h-1zM1268 303h1v1h-1zM1267 304h1v1h-1zM1266 305h1v1h-1zM1265 306h1v1h-1zM1263 307h2v1h-2zM1262 308h1v1h-1zM1261 309h1v1h-1zM1260 310h1v1h-1zM1259 311h1v1h-1zM1258 312h1v1h-1zM1256 313h2v1h-2zM1255 314h1v1h-1zM2 315h2v1h-2zM1254 315h1v1h-1zM4 316h3v1h-3zM1253 316h1v1h-1zM7 317h3v1h-3zM1251 317h2v1h-2zM10 318h3v1h-3zM1250 318h1v1h-1zM13 319h4v1h-4zM1248 319h2v1h-2zM17 320h4v1h-4zM1247 320h1v1h-1zM21 321h4v1h-4zM29 321h7v1h-7zM1245 321h2v1h-2zM25 322h4v1h-4zM36 322h7v1h-7zM1243 322h2v1h-2zM43 323h4v1h-4zM1242 323h1v1h-1zM47 324h4v1h-4zM1240 324h2v1h-2zM51 325h6v1h-6zM1239 325h1v1h-1zM57 326h4v1h-4zM1237 326h2v1h-2zM61 327h2v1h-2zM1235 327h2v1h-2zM63 328h2v1h-2zM1232 328h3v1h-3zM65 329h2v1h-2zM1230 329h2v1h-2zM67 330h2v1h-2zM1227 330h3v1h-3zM69 331h2v1h-2zM1224 331h3v1h-3zM71 332h2v1h-2zM1222 332h2v1h-2zM73 333h2v1h-2zM1219 333h3v1h-3zM75 334h12v1h-12zM1216 334h3v1h-3zM87 335h2v1h-2zM1213 335h3v1h-3zM89 336h2v1h-2zM1210 336h3v1h-3zM91 337h2v1h-2zM1208 337h2v1h-2zM93 338h2v1h-2zM1205 338h3v1h-3zM95 339h2v1h-2zM1199 339h6v1h-6zM97 340h1v1h-1zM1191 340h8v1h-8zM98 341h2v1h-2zM1183 341h8v1h-8zM100 342h1v1h-1zM1175 342h8v1h-8zM101 343h2v1h-2zM1165 343h10v1h-10zM103 344h1v1h-1zM1157 344h8v1h-8zM104 345h2v1h-2zM1151 345h6v1h-6zM106 346h1v1h-1zM1145 346h6v1h-6zM107 347h1v1h-1zM1140 347h5v1h-5zM108 348h1v1h-1zM1134 348h6v1h-6zM109 349h1v1h-1zM1129 349h5v1h-5zM110 350h1v1h-1zM1123 350h6v1h-6zM111 351h1v1h-1zM1116 351h7v1h-7zM112 352h1v1h-1zM1108 352h8v1h-8zM113 353h1v1h-1zM1089 353h19v1h-19zM114 354h2v1h-2zM1083 354h6v1h-6zM116 355h1v1h-1zM1072 355h11v1h-11zM117 356h2v1h-2zM1062 356h10v1h-10zM119 357h2v1h-2zM1058 357h4v1h-4zM121 358h2v1h-2zM1054 358h4v1h-4zM123 359h1v1h-1zM1051 359h3v1h-3zM124 360h1v1h-1zM1048 360h3v1h-3zM125 361h1v1h-1zM1046 361h2v1h-2zM126 362h1v1h-1zM1043 362h3v1h-3zM127 363h1v1h-1zM1040 363h3v1h-3zM128 364h1v1h-1zM1038 364h2v1h-2zM129 365h1v1h-1zM1036 365h2v1h-2zM130 366h1v1h-1zM1033 366h3v1h-3zM131 367h1v1h-1zM1031 367h2v1h-2zM132 368h1v1h-1zM1029 368h2v1h-2zM133 369h1v1h-1zM1027 369h2v1h-2zM133 370h1v1h-1zM1024 370h3v1h-3zM134 371h1v1h-1zM1021 371h3v1h-3zM135 372h1v1h-1zM1018 372h3v1h-3zM136 373h1v1h-1zM1016 373h2v1h-2zM136 374h1v1h-1zM764 374h12v1h-12zM783 374h9v1h-9zM1013 374h3v1h-3zM137 375h1v1h-1zM759 375h5v1h-5zM776 375h7v1h-7zM792 375h14v1h-14zM1010 375h3v1h-3zM138 376h1v1h-1zM744 376h15v1h-15zM806 376h5v1h-5zM1007 376h3v1h-3zM139 377h1v1h-1zM742 377h2v1h-2zM811 377h1v1h-1zM1005 377h2v1h-2zM140 378h1v1h-1zM726 378h16v1h-16zM812 378h5v1h-5zM1003 378h2v1h-2zM141 379h1v1h-1zM722 379h4v1h-4zM817 379h1v1h-1zM1001 379h2v1h-2zM142 380h1v1h-1zM717 380h5v1h-5zM818 380h2v1h-2zM999 380h2v1h-2zM142 381h1v1h-1zM713 381h4v1h-4zM820 381h4v1h-4zM996 381h3v1h-3zM143 382h1v1h-1zM709 382h4v1h-4zM824 382h4v1h-4zM993 382h3v1h-3zM144 383h1v1h-1zM706 383h3v1h-3zM828 383h4v1h-4zM990 383h3v1h-3zM145 384h1v1h-1zM704 384h2v1h-2zM832 384h3v1h-3zM987 384h3v1h-3zM146 385h1v1h-1zM700 385h4v1h-4zM835 385h3v1h-3zM984 385h3v1h-3zM147 386h1v1h-1zM696 386h4v1h-4zM838 386h3v1h-3zM982 386h2v1h-2zM148 387h1v1h-1zM692 387h4v1h-4zM841 387h4v1h-4zM980 387h2v1h-2zM149 388h1v1h-1zM689 388h3v1h-3zM845 388h4v1h-4zM978 388h2v1h-2zM150 389h1v1h-1zM686 389h3v1h-3zM849 389h4v1h-4zM976 389h2v1h-2zM151 390h1v1h-1zM682 390h4v1h-4zM853 390h5v1h-5zM974 390h2v1h-2zM152 391h1v1h-1zM678 391h4v1h-4zM858 391h4v1h-4zM967 391h7v1h-7zM153 392h1v1h-1zM674 392h4v1h-4zM862 392h4v1h-4zM957 392h10v1h-10zM153 393h1v1h-1zM672 393h2v1h-2zM866 393h2v1h-2zM950 393h7v1h-7zM154 394h1v1h-1zM669 394h3v1h-3zM868 394h3v1h-3zM944 394h6v1h-6zM155 395h1v1h-1zM666 395h3v1h-3zM871 395h2v1h-2zM938 395h6v1h-6zM156 396h1v1h-1zM664 396h2v1h-2zM873 396h4v1h-4zM931 396h7v1h-7zM157 397h1v1h-1zM661 397h3v1h-3zM877 397h7v1h-7zM923 397h8v1h-8zM158 398h1v1h-1zM659 398h2v1h-2zM884 398h8v1h-8zM910 398h13v1h-13zM159 399h1v1h-1zM657 399h2v1h-2zM892 399h18v1h-18zM160 400h1v1h-1zM655 400h2v1h-2zM161 401h1v1h-1zM653 401h2v1h-2zM161 402h1v1h-1zM651 402h2v1h-2zM162 403h1v1h-1zM647 403h4v1h-4zM163 404h1v1h-1zM643 404h4v1h-4zM164 405h1v1h-1zM639 405h4v1h-4zM165 406h1v1h-1zM635 406h4v1h-4zM166 407h1v1h-1zM630 407h5v1h-5zM166 408h1v1h-1zM626 408h4v1h-4zM167 409h1v1h-1zM622 409h4v1h-4zM168 410h1v1h-1zM619 410h3v1h-3zM169 411h1v1h-1zM616 411h3v1h-3zM170 412h1v1h-1zM612 412h4v1h-4zM171 413h1v1h-1zM609 413h3v1h-3zM172 414h1v1h-1zM606 414h3v1h-3zM172 415h1v1h-1zM601 415h5v1h-5zM173 416h1v1h-1zM593 416h8v1h-8zM174 417h1v1h-1zM571 417h22v1h-22zM175 418h1v1h-1zM564 418h7v1h-7zM176 419h1v1h-1zM558 419h6v1h-6zM177 420h1v1h-1zM552 420h6v1h-6zM178 421h2v1h-2zM530 421h22v1h-22zM180 422h1v1h-1zM480 422h50v1h-50zM181 423h1v1h-1zM476 423h4v1h-4zM182 424h1v1h-1zM472 424h4v1h-4zM183 425h2v1h-2zM463 425h9v1h-9zM185 426h1v1h-1zM460 426h3v1h-3zM186 427h1v1h-1zM458 427h2v1h-2zM187 428h2v1h-2zM455 428h3v1h-3zM189 429h1v1h-1zM451 429h4v1h-4zM190 430h1v1h-1zM445 430h6v1h-6zM191 431h1v1h-1zM438 431h7v1h-7zM192 432h1v1h-1zM433 432h5v1h-5zM193 433h1v1h-1zM430 433h3v1h-3zM194 434h1v1h-1zM426 434h4v1h-4zM195 435h1v1h-1zM423 435h3v1h-3zM196 436h1v1h-1zM420 436h3v1h-3zM197 437h1v1h-1zM417 437h3v1h-3zM198 438h1v1h-1zM414 438h3v1h-3zM199 439h1v1h-1zM411 439h3v1h-3zM200 440h2v1h-2zM408 440h3v1h-3zM202 441h1v1h-1zM406 441h2v1h-2zM203 442h1v1h-1zM388 442h18v1h-18zM204 443h1v1h-1zM384 443h4v1h-4zM205 444h2v1h-2zM380 444h4v1h-4zM207 445h1v1h-1zM376 445h4v1h-4zM208 446h1v1h-1zM371 446h5v1h-5zM209 447h2v1h-2zM366 447h5v1h-5zM211 448h1v1h-1zM362 448h4v1h-4zM212 449h2v1h-2zM358 449h4v1h-4zM214 450h1v1h-1zM356 450h2v1h-2zM215 451h2v1h-2zM354 451h2v1h-2zM217 452h1v1h-1zM352 452h2v1h-2zM218 453h2v1h-2zM350 453h2v1h-2zM220 454h1v1h-1zM348 454h2v1h-2zM221 455h2v1h-2zM346 455h2v1h-2zM223 456h2v1h-2zM344 456h2v1h-2zM225 457h2v1h-2zM342 457h2v1h-2zM227 458h2v1h-2zM339 458h3v1h-3zM229 459h2v1h-2zM336 459h3v1h-3zM231 460h3v1h-3zM333 460h3v1h-3zM234 461h3v1h-3zM330 461h3v1h-3zM237 462h3v1h-3zM327 462h3v1h-3zM240 463h3v1h-3zM324 463h3v1h-3zM243 464h2v1h-2zM320 464h4v1h-4zM245 465h2v1h-2zM316 465h4v1h-4zM247 466h3v1h-3zM313 466h3v1h-3zM250 467h2v1h-2zM310 467h3v1h-3zM252 468h4v1h-4zM307 468h3v1h-3zM256 469h6v1h-6zM304 469h3v1h-3zM262 470h7v1h-7zM300 470h4v1h-4zM269 471h12v1h-12zM296 471h4v1h-4zM281 472h15v1h-15z" fill="#FFA500" shape-rendering="crispEdges" />
<g shape-rendering="crispEdges">
<rect x="3" y="62" width="1685" height="1" fill="#778899"/>
<rect x="3" y="73" width="1685" height="2" fill="#32CD32"/>
<rect x="3" y="132" width="1685" height="2" fill="#4169E1"/>
<rect x="3" y="209" width="1685" height="2" fill="#4169E1"/>
<rect x="3" y="289" width="1685" height="2" fill="#4169E1"/>
</g>
<polygon points="1345,34 1354,34 1349.5,39" fill="#778899"/>
</g>
<g shape-rendering="crispEdges">
<rect x="2" y="71" width="6" height="6" fill="#32CD32"/>
<rect x="4" y="73" width="2" height="2" fill="#ffffff"/>
<rect x="1682" y="71" width="6" height="6" fill="#32CD32"/>
<rect x="1684" y="73" width="2" height="2" fill="#ffffff"/>
<rect x="2" y="130" width="6" height="6" fill="#4169E1"/>
<rect x="4" y="132" width="2" height="2" fill="#ffffff"/>
<rect x="1682" y="130" width="6" height="6" fill="#4169E1"/>
<rect x="1684" y="132" width="2" height="2" fill="#ffffff"/>
</g>
<polygon points="6,40 13,40 9.5,44" fill="#000"/>
<text x="18.2" y="45.2" font-size="9.6" fill="#000" stroke="#000" stroke-width="0.2" textLength="64.6" lengthAdjust="spacingAndGlyphs" >CHINA300-,H4</text>
<text x="88.6" y="45.2" font-size="9.6" fill="#000" stroke="#000" stroke-width="0.2" textLength="121.6" lengthAdjust="spacingAndGlyphs" >4826.4 4845.3 4776.3 4834.0</text>
<text x="1693.35" y="49" font-size="9.6" fill="#000" stroke="#000" stroke-width="0.2" textLength="28.55" lengthAdjust="spacingAndGlyphs" >4884.5</text>
<text x="1693.35" y="82" font-size="9.6" fill="#000" stroke="#000" stroke-width="0.2" textLength="28.55" lengthAdjust="spacingAndGlyphs" >4787.0</text>
<text x="1693.35" y="115" font-size="9.6" fill="#000" stroke="#000" stroke-width="0.2" textLength="28.55" lengthAdjust="spacingAndGlyphs" >4689.5</text>
<text x="1693.35" y="148" font-size="9.6" fill="#000" stroke="#000" stroke-width="0.2" textLength="28.55" lengthAdjust="spacingAndGlyphs" >4592.0</text>
<text x="1693.35" y="181" font-size="9.6" fill="#000" stroke="#000" stroke-width="0.2" textLength="28.55" lengthAdjust="spacingAndGlyphs" >4497.0</text>
<text x="1693.35" y="214" font-size="9.6" fill="#000" stroke="#000" stroke-width="0.2" textLength="28.55" lengthAdjust="spacingAndGlyphs" >4399.5</text>
<text x="1693.35" y="247" font-size="9.6" fill="#000" stroke="#000" stroke-width="0.2" textLength="28.55" lengthAdjust="spacingAndGlyphs" >4302.0</text>
<text x="1693.35" y="280" font-size="9.6" fill="#000" stroke="#000" stroke-width="0.2" textLength="28.55" lengthAdjust="spacingAndGlyphs" >4204.5</text>
<text x="1693.35" y="313" font-size="9.6" fill="#000" stroke="#000" stroke-width="0.2" textLength="28.55" lengthAdjust="spacingAndGlyphs" >4107.0</text>
<text x="1693.35" y="346" font-size="9.6" fill="#000" stroke="#000" stroke-width="0.2" textLength="28.55" lengthAdjust="spacingAndGlyphs" >4012.0</text>
<text x="1693.35" y="379" font-size="9.6" fill="#000" stroke="#000" stroke-width="0.2" textLength="28.55" lengthAdjust="spacingAndGlyphs" >3914.5</text>
<text x="1693.35" y="412" font-size="9.6" fill="#000" stroke="#000" stroke-width="0.2" textLength="28.55" lengthAdjust="spacingAndGlyphs" >3817.0</text>
<text x="1693.35" y="445" font-size="9.6" fill="#000" stroke="#000" stroke-width="0.2" textLength="28.55" lengthAdjust="spacingAndGlyphs" >3719.5</text>
<text x="1693.35" y="478" font-size="9.6" fill="#000" stroke="#000" stroke-width="0.2" textLength="28.55" lengthAdjust="spacingAndGlyphs" >3622.0</text>
<text x="1693.35" y="511" font-size="9.6" fill="#000" stroke="#000" stroke-width="0.2" textLength="28.55" lengthAdjust="spacingAndGlyphs" >3527.0</text>
<text x="1693.35" y="544" font-size="9.6" fill="#000" stroke="#000" stroke-width="0.2" textLength="28.55" lengthAdjust="spacingAndGlyphs" >3429.5</text>
<g shape-rendering="crispEdges">
<rect x="1690" y="57" width="36" height="11" fill="#000000"/>
<rect x="1690" y="68" width="36" height="11" fill="#32CD32"/>
<rect x="1690" y="127" width="36" height="11" fill="#4169E1"/>
<rect x="1690" y="204" width="36" height="11" fill="#4169E1"/>
<rect x="1690" y="284" width="36" height="11" fill="#4169E1"/>
</g>
<text x="1693.6" y="66" font-size="9.6" fill="#ffffff" stroke="#ffffff" stroke-width="0.2" textLength="28.4" lengthAdjust="spacingAndGlyphs" >4834.0</text>
<text x="1693.6" y="77" font-size="9.6" fill="#ffffff" stroke="#ffffff" stroke-width="0.2" textLength="28.4" lengthAdjust="spacingAndGlyphs" >4800.0</text>
<text x="1693.6" y="136" font-size="9.6" fill="#ffffff" stroke="#ffffff" stroke-width="0.2" textLength="28.4" lengthAdjust="spacingAndGlyphs" >4625.0</text>
<text x="1693.6" y="213" font-size="9.6" fill="#ffffff" stroke="#ffffff" stroke-width="0.2" textLength="28.4" lengthAdjust="spacingAndGlyphs" >4400.0</text>
<text x="1693.6" y="293" font-size="9.6" fill="#ffffff" stroke="#ffffff" stroke-width="0.2" textLength="28.4" lengthAdjust="spacingAndGlyphs" >4165.0</text>
<g clip-path="url(#cmacd)">
<g shape-rendering="crispEdges" fill="#C0C0C0">
<rect x="3" y="607" width="1" height="8"/>
<rect x="11" y="610" width="1" height="5"/>
<rect x="19" y="613" width="1" height="2"/>
<rect x="27" y="614" width="1" height="1"/>
<rect x="35" y="614" width="1" height="1"/>
<rect x="43" y="614" width="1" height="1"/>
<rect x="51" y="614" width="1" height="1"/>
<rect x="59" y="614" width="1" height="5"/>
<rect x="67" y="614" width="1" height="7"/>
<rect x="75" y="614" width="1" height="13"/>
<rect x="83" y="614" width="1" height="14"/>
<rect x="91" y="614" width="1" height="17"/>
<rect x="99" y="614" width="1" height="22"/>
<rect x="107" y="614" width="1" height="25"/>
<rect x="115" y="614" width="1" height="28"/>
<rect x="123" y="614" width="1" height="29"/>
<rect x="131" y="614" width="1" height="32"/>
<rect x="139" y="614" width="1" height="37"/>
<rect x="147" y="614" width="1" height="39"/>
<rect x="155" y="614" width="1" height="40"/>
<rect x="163" y="614" width="1" height="39"/>
<rect x="171" y="614" width="1" height="39"/>
<rect x="179" y="614" width="1" height="40"/>
<rect x="187" y="614" width="1" height="39"/>
<rect x="195" y="614" width="1" height="37"/>
<rect x="203" y="614" width="1" height="34"/>
<rect x="211" y="614" width="1" height="30"/>
<rect x="219" y="614" width="1" height="27"/>
<rect x="227" y="614" width="1" height="25"/>
<rect x="235" y="614" width="1" height="21"/>
<rect x="243" y="614" width="1" height="19"/>
<rect x="251" y="614" width="1" height="18"/>
<rect x="259" y="614" width="1" height="17"/>
<rect x="267" y="614" width="1" height="16"/>
<rect x="275" y="614" width="1" height="15"/>
<rect x="283" y="614" width="1" height="13"/>
<rect x="291" y="614" width="1" height="13"/>
<rect x="299" y="614" width="1" height="11"/>
<rect x="307" y="614" width="1" height="10"/>
<rect x="315" y="614" width="1" height="8"/>
<rect x="323" y="614" width="1" height="7"/>
<rect x="331" y="614" width="1" height="4"/>
<rect x="339" y="614" width="1" height="2"/>
<rect x="347" y="614" width="1" height="1"/>
<rect x="355" y="614" width="1" height="1"/>
<rect x="363" y="613" width="1" height="2"/>
<rect x="371" y="612" width="1" height="3"/>
<rect x="379" y="611" width="1" height="4"/>
<rect x="387" y="611" width="1" height="4"/>
<rect x="395" y="611" width="1" height="4"/>
<rect x="403" y="611" width="1" height="4"/>
<rect x="411" y="611" width="1" height="4"/>
<rect x="419" y="610" width="1" height="5"/>
<rect x="427" y="609" width="1" height="6"/>
<rect x="435" y="610" width="1" height="5"/>
<rect x="443" y="609" width="1" height="6"/>
<rect x="451" y="610" width="1" height="5"/>
<rect x="459" y="609" width="1" height="6"/>
<rect x="467" y="610" width="1" height="5"/>
<rect x="475" y="609" width="1" height="6"/>
<rect x="483" y="608" width="1" height="7"/>
<rect x="491" y="610" width="1" height="5"/>
<rect x="499" y="611" width="1" height="4"/>
<rect x="507" y="612" width="1" height="3"/>
<rect x="515" y="612" width="1" height="3"/>
<rect x="523" y="612" width="1" height="3"/>
<rect x="531" y="612" width="1" height="3"/>
<rect x="539" y="612" width="1" height="3"/>
<rect x="547" y="613" width="1" height="2"/>
<rect x="555" y="612" width="1" height="3"/>
<rect x="563" y="612" width="1" height="3"/>
<rect x="571" y="612" width="1" height="3"/>
<rect x="579" y="612" width="1" height="3"/>
<rect x="587" y="611" width="1" height="4"/>
<rect x="595" y="610" width="1" height="5"/>
<rect x="603" y="608" width="1" height="7"/>
<rect x="611" y="606" width="1" height="9"/>
<rect x="619" y="606" width="1" height="9"/>
<rect x="627" y="605" width="1" height="10"/>
<rect x="635" y="604" width="1" height="11"/>
<rect x="643" y="604" width="1" height="11"/>
<rect x="651" y="602" width="1" height="13"/>
<rect x="659" y="602" width="1" height="13"/>
<rect x="667" y="601" width="1" height="14"/>
<rect x="675" y="601" width="1" height="14"/>
<rect x="683" y="602" width="1" height="13"/>
<rect x="691" y="602" width="1" height="13"/>
<rect x="699" y="601" width="1" height="14"/>
<rect x="707" y="601" width="1" height="14"/>
<rect x="715" y="604" width="1" height="11"/>
<rect x="723" y="606" width="1" height="9"/>
<rect x="731" y="607" width="1" height="8"/>
<rect x="739" y="608" width="1" height="7"/>
<rect x="747" y="610" width="1" height="5"/>
<rect x="755" y="611" width="1" height="4"/>
<rect x="763" y="611" width="1" height="4"/>
<rect x="771" y="611" width="1" height="4"/>
<rect x="779" y="611" width="1" height="4"/>
<rect x="787" y="612" width="1" height="3"/>
<rect x="795" y="612" width="1" height="3"/>
<rect x="803" y="613" width="1" height="2"/>
<rect x="811" y="614" width="1" height="1"/>
<rect x="819" y="614" width="1" height="4"/>
<rect x="827" y="614" width="1" height="6"/>
<rect x="835" y="614" width="1" height="7"/>
<rect x="843" y="614" width="1" height="7"/>
<rect x="851" y="614" width="1" height="7"/>
<rect x="859" y="614" width="1" height="7"/>
<rect x="867" y="614" width="1" height="7"/>
<rect x="875" y="614" width="1" height="7"/>
<rect x="883" y="614" width="1" height="7"/>
<rect x="891" y="614" width="1" height="7"/>
<rect x="899" y="614" width="1" height="7"/>
<rect x="907" y="614" width="1" height="4"/>
<rect x="915" y="614" width="1" height="1"/>
<rect x="923" y="613" width="1" height="2"/>
<rect x="931" y="611" width="1" height="4"/>
<rect x="939" y="609" width="1" height="6"/>
<rect x="947" y="608" width="1" height="7"/>
<rect x="955" y="607" width="1" height="8"/>
<rect x="963" y="607" width="1" height="8"/>
<rect x="971" y="607" width="1" height="8"/>
<rect x="979" y="606" width="1" height="9"/>
<rect x="987" y="605" width="1" height="10"/>
<rect x="995" y="606" width="1" height="9"/>
<rect x="1003" y="604" width="1" height="11"/>
<rect x="1011" y="603" width="1" height="12"/>
<rect x="1019" y="603" width="1" height="12"/>
<rect x="1027" y="603" width="1" height="12"/>
<rect x="1035" y="603" width="1" height="12"/>
<rect x="1043" y="605" width="1" height="10"/>
<rect x="1051" y="606" width="1" height="9"/>
<rect x="1059" y="606" width="1" height="9"/>
<rect x="1067" y="607" width="1" height="8"/>
<rect x="1075" y="609" width="1" height="6"/>
<rect x="1083" y="608" width="1" height="7"/>
<rect x="1091" y="608" width="1" height="7"/>
<rect x="1099" y="609" width="1" height="6"/>
<rect x="1107" y="608" width="1" height="7"/>
<rect x="1115" y="608" width="1" height="7"/>
<rect x="1123" y="610" width="1" height="5"/>
<rect x="1131" y="608" width="1" height="7"/>
<rect x="1139" y="608" width="1" height="7"/>
<rect x="1147" y="607" width="1" height="8"/>
<rect x="1155" y="607" width="1" height="8"/>
<rect x="1163" y="606" width="1" height="9"/>
<rect x="1171" y="605" width="1" height="10"/>
<rect x="1179" y="605" width="1" height="10"/>
<rect x="1187" y="604" width="1" height="11"/>
<rect x="1195" y="605" width="1" height="10"/>
<rect x="1203" y="605" width="1" height="10"/>
<rect x="1211" y="604" width="1" height="11"/>
<rect x="1219" y="603" width="1" height="12"/>
<rect x="1227" y="602" width="1" height="13"/>
<rect x="1235" y="599" width="1" height="16"/>
<rect x="1243" y="597" width="1" height="18"/>
<rect x="1251" y="594" width="1" height="21"/>
<rect x="1259" y="591" width="1" height="24"/>
<rect x="1267" y="587" width="1" height="28"/>
<rect x="1275" y="580" width="1" height="35"/>
<rect x="1283" y="571" width="1" height="44"/>
<rect x="1291" y="565" width="1" height="50"/>
<rect x="1299" y="561" width="1" height="54"/>
<rect x="1307" y="559" width="1" height="56"/>
<rect x="1315" y="557" width="1" height="58"/>
<rect x="1323" y="554" width="1" height="61"/>
<rect x="1331" y="553" width="1" height="62"/>
</g>
<path d="M1330 564h1v1h-1zM1329 565h1v1h-1zM1324 567h2v1h-2zM1323 568h1v1h-1zM1318 570h2v1h-2zM1317 571h1v1h-1zM1313 574h1v1h-1zM1311 575h2v1h-2zM1307 577h1v1h-1zM1305 578h2v1h-2zM1301 580h1v1h-1zM1300 581h1v1h-1zM1299 582h1v1h-1zM1294 584h2v1h-2zM1293 585h1v1h-1zM1287 587h3v1h-3zM1283 589h1v1h-1zM1281 590h2v1h-2zM1277 592h1v1h-1zM1275 593h2v1h-2zM1271 595h1v1h-1zM1269 596h2v1h-2zM1263 598h3v1h-3zM1257 599h3v1h-3zM1251 600h3v1h-3zM687 601h3v1h-3zM693 601h3v1h-3zM699 601h3v1h-3zM705 601h3v1h-3zM711 601h3v1h-3zM717 601h3v1h-3zM723 601h3v1h-3zM729 601h3v1h-3zM1245 601h3v1h-3zM669 602h3v1h-3zM675 602h3v1h-3zM681 602h3v1h-3zM735 602h2v1h-2zM1239 602h3v1h-3zM663 603h3v1h-3zM737 603h1v1h-1zM741 603h3v1h-3zM1029 603h3v1h-3zM1035 603h3v1h-3zM1041 603h3v1h-3zM1047 603h3v1h-3zM1053 603h3v1h-3zM1059 603h3v1h-3zM1227 603h3v1h-3zM1233 603h3v1h-3zM652 604h2v1h-2zM657 604h3v1h-3zM747 604h3v1h-3zM1017 604h3v1h-3zM1023 604h3v1h-3zM1065 604h3v1h-3zM1071 604h3v1h-3zM1077 604h3v1h-3zM1198 604h2v1h-2zM1203 604h3v1h-3zM1209 604h3v1h-3zM1215 604h3v1h-3zM1221 604h3v1h-3zM647 605h1v1h-1zM651 605h1v1h-1zM753 605h3v1h-3zM759 605h1v1h-1zM1011 605h3v1h-3zM1083 605h3v1h-3zM1089 605h3v1h-3zM1185 605h3v1h-3zM1191 605h3v1h-3zM1197 605h1v1h-1zM639 606h3v1h-3zM645 606h2v1h-2zM760 606h2v1h-2zM765 606h3v1h-3zM999 606h3v1h-3zM1005 606h3v1h-3zM1095 606h3v1h-3zM1101 606h3v1h-3zM1179 606h3v1h-3zM633 607h3v1h-3zM771 607h3v1h-3zM983 607h1v1h-1zM987 607h3v1h-3zM993 607h3v1h-3zM1107 607h3v1h-3zM1113 607h3v1h-3zM1161 607h3v1h-3zM1167 607h3v1h-3zM1173 607h3v1h-3zM477 608h3v1h-3zM483 608h3v1h-3zM615 608h3v1h-3zM621 608h3v1h-3zM627 608h3v1h-3zM777 608h3v1h-3zM981 608h2v1h-2zM1119 608h3v1h-3zM1125 608h3v1h-3zM1131 608h3v1h-3zM1137 608h3v1h-3zM1143 608h3v1h-3zM1149 608h3v1h-3zM1155 608h3v1h-3zM3 609h3v1h-3zM9 609h3v1h-3zM15 609h3v1h-3zM21 609h3v1h-3zM27 609h3v1h-3zM33 609h3v1h-3zM436 609h2v1h-2zM441 609h3v1h-3zM447 609h3v1h-3zM453 609h3v1h-3zM459 609h3v1h-3zM465 609h3v1h-3zM471 609h3v1h-3zM489 609h3v1h-3zM495 609h3v1h-3zM501 609h3v1h-3zM507 609h3v1h-3zM513 609h3v1h-3zM519 609h1v1h-1zM609 609h3v1h-3zM783 609h3v1h-3zM789 609h3v1h-3zM975 609h3v1h-3zM39 610h3v1h-3zM45 610h3v1h-3zM51 610h3v1h-3zM423 610h3v1h-3zM429 610h3v1h-3zM435 610h1v1h-1zM520 610h2v1h-2zM525 610h3v1h-3zM531 610h3v1h-3zM537 610h3v1h-3zM543 610h1v1h-1zM591 610h3v1h-3zM597 610h3v1h-3zM603 610h3v1h-3zM795 610h3v1h-3zM801 610h3v1h-3zM969 610h3v1h-3zM411 611h3v1h-3zM417 611h3v1h-3zM544 611h2v1h-2zM549 611h3v1h-3zM555 611h3v1h-3zM561 611h3v1h-3zM567 611h3v1h-3zM573 611h3v1h-3zM579 611h3v1h-3zM585 611h3v1h-3zM807 611h3v1h-3zM813 611h3v1h-3zM963 611h3v1h-3zM57 612h3v1h-3zM393 612h3v1h-3zM399 612h3v1h-3zM405 612h3v1h-3zM819 612h3v1h-3zM957 612h3v1h-3zM63 613h3v1h-3zM387 613h3v1h-3zM825 613h3v1h-3zM951 613h3v1h-3zM69 614h3v1h-3zM831 614h3v1h-3zM837 614h3v1h-3zM945 614h3v1h-3zM75 615h2v1h-2zM376 615h2v1h-2zM381 615h3v1h-3zM843 615h3v1h-3zM849 615h1v1h-1zM939 615h3v1h-3zM77 616h1v1h-1zM369 616h3v1h-3zM375 616h1v1h-1zM850 616h2v1h-2zM855 616h1v1h-1zM935 616h1v1h-1zM81 617h2v1h-2zM363 617h3v1h-3zM856 617h2v1h-2zM861 617h3v1h-3zM929 617h1v1h-1zM933 617h2v1h-2zM83 618h1v1h-1zM358 618h2v1h-2zM867 618h3v1h-3zM873 618h2v1h-2zM921 618h3v1h-3zM927 618h2v1h-2zM87 619h3v1h-3zM357 619h1v1h-1zM875 619h1v1h-1zM879 619h2v1h-2zM911 619h1v1h-1zM915 619h3v1h-3zM93 620h2v1h-2zM351 620h3v1h-3zM881 620h1v1h-1zM885 620h3v1h-3zM891 620h3v1h-3zM897 620h3v1h-3zM903 620h3v1h-3zM909 620h2v1h-2zM95 621h1v1h-1zM345 621h3v1h-3zM99 622h1v1h-1zM339 622h3v1h-3zM100 623h2v1h-2zM333 623h3v1h-3zM327 624h3v1h-3zM105 625h2v1h-2zM321 625h3v1h-3zM107 626h1v1h-1zM315 626h3v1h-3zM111 627h2v1h-2zM113 628h1v1h-1zM309 628h3v1h-3zM117 629h3v1h-3zM299 629h1v1h-1zM303 629h3v1h-3zM123 630h1v1h-1zM291 630h3v1h-3zM297 630h2v1h-2zM124 631h2v1h-2zM285 631h3v1h-3zM129 633h2v1h-2zM279 633h3v1h-3zM131 634h1v1h-1zM273 634h3v1h-3zM269 635h1v1h-1zM135 636h3v1h-3zM267 636h2v1h-2zM141 637h1v1h-1zM142 638h2v1h-2zM261 638h3v1h-3zM256 639h2v1h-2zM147 640h2v1h-2zM255 640h1v1h-1zM149 641h1v1h-1zM249 641h3v1h-3zM153 642h2v1h-2zM245 642h1v1h-1zM155 643h1v1h-1zM243 643h2v1h-2zM159 644h3v1h-3zM238 644h2v1h-2zM165 645h2v1h-2zM237 645h1v1h-1zM167 646h1v1h-1zM231 646h3v1h-3zM171 647h3v1h-3zM226 647h2v1h-2zM177 648h1v1h-1zM220 648h2v1h-2zM225 648h1v1h-1zM178 649h2v1h-2zM183 649h1v1h-1zM214 649h2v1h-2zM219 649h1v1h-1zM184 650h2v1h-2zM189 650h3v1h-3zM207 650h3v1h-3zM213 650h1v1h-1zM195 651h3v1h-3zM201 651h3v1h-3z" fill="#FF0000" shape-rendering="crispEdges" />
</g>
<text x="7.0" y="558" font-size="9.6" fill="#000" stroke="#000" stroke-width="0.2" textLength="128.1" lengthAdjust="spacingAndGlyphs" >MACD(12,26,9) 204.50 163.58</text>
<text x="1692.1" y="556" font-size="9.6" fill="#000" stroke="#000" stroke-width="0.2" textLength="27.9" lengthAdjust="spacingAndGlyphs" >221.13</text>
<text x="1692.1" y="618" font-size="9.6" fill="#000" stroke="#000" stroke-width="0.2" textLength="18.3" lengthAdjust="spacingAndGlyphs" >0.00</text>
<text x="1691.7" y="656" font-size="9.6" fill="#000" stroke="#000" stroke-width="0.2" textLength="31.0" lengthAdjust="spacingAndGlyphs" >-144.84</text>
<g clip-path="url(#crsi)">
<g shape-rendering="crispEdges">
<line x1="3" y1="696.5" x2="1688" y2="696.5" stroke="#C0C0C0" stroke-width="1" stroke-dasharray="3,3"/>
<line x1="3" y1="740.5" x2="1688" y2="740.5" stroke="#C0C0C0" stroke-width="1" stroke-dasharray="3,3"/>
</g>
<path d="M1287 671h5v1h-5zM1281 672h6v1h-6zM1292 672h1v1h-1zM1277 673h4v1h-4zM1293 673h1v1h-1zM1275 674h2v1h-2zM1294 674h1v1h-1zM1273 675h2v1h-2zM1295 675h1v1h-1zM1272 676h1v1h-1zM1295 676h1v1h-1zM1327 676h5v1h-5zM1271 677h1v1h-1zM1296 677h1v1h-1zM1319 677h8v1h-8zM1269 678h2v1h-2zM1297 678h1v1h-1zM1311 678h8v1h-8zM1268 679h1v1h-1zM1298 679h1v1h-1zM1303 679h8v1h-8zM1265 680h3v1h-3zM1299 680h4v1h-4zM1261 681h4v1h-4zM1257 682h4v1h-4zM1253 683h4v1h-4zM1250 684h3v1h-3zM1247 685h3v1h-3zM1245 686h2v1h-2zM1242 687h3v1h-3zM1239 688h3v1h-3zM1237 689h2v1h-2zM1234 690h3v1h-3zM1232 691h2v1h-2zM1230 692h2v1h-2zM1228 693h2v1h-2zM1002 694h3v1h-3zM1227 694h1v1h-1zM1000 695h2v1h-2zM1005 695h4v1h-4zM1226 695h1v1h-1zM651 696h2v1h-2zM665 696h3v1h-3zM998 696h2v1h-2zM1009 696h4v1h-4zM1186 696h2v1h-2zM1225 696h1v1h-1zM649 697h2v1h-2zM653 697h4v1h-4zM661 697h4v1h-4zM668 697h2v1h-2zM938 697h2v1h-2zM996 697h2v1h-2zM1013 697h2v1h-2zM1184 697h2v1h-2zM1188 697h1v1h-1zM1223 697h2v1h-2zM648 698h1v1h-1zM657 698h4v1h-4zM670 698h1v1h-1zM935 698h3v1h-3zM940 698h1v1h-1zM986 698h10v1h-10zM1015 698h3v1h-3zM1023 698h13v1h-13zM1182 698h2v1h-2zM1188 698h1v1h-1zM1222 698h1v1h-1zM647 699h1v1h-1zM671 699h2v1h-2zM933 699h2v1h-2zM941 699h2v1h-2zM983 699h3v1h-3zM1018 699h5v1h-5zM1036 699h1v1h-1zM1146 699h2v1h-2zM1180 699h2v1h-2zM1189 699h1v1h-1zM1221 699h1v1h-1zM603 700h10v1h-10zM626 700h5v1h-5zM645 700h2v1h-2zM673 700h2v1h-2zM927 700h6v1h-6zM943 700h1v1h-1zM981 700h2v1h-2zM1036 700h1v1h-1zM1144 700h2v1h-2zM1148 700h1v1h-1zM1175 700h5v1h-5zM1189 700h1v1h-1zM1211 700h4v1h-4zM1220 700h1v1h-1zM602 701h1v1h-1zM613 701h2v1h-2zM623 701h3v1h-3zM631 701h8v1h-8zM644 701h1v1h-1zM675 701h2v1h-2zM706 701h2v1h-2zM919 701h8v1h-8zM944 701h1v1h-1zM979 701h2v1h-2zM1037 701h1v1h-1zM1142 701h2v1h-2zM1149 701h2v1h-2zM1167 701h8v1h-8zM1190 701h1v1h-1zM1209 701h2v1h-2zM1215 701h5v1h-5zM601 702h1v1h-1zM615 702h3v1h-3zM621 702h2v1h-2zM639 702h5v1h-5zM677 702h2v1h-2zM689 702h4v1h-4zM703 702h3v1h-3zM708 702h1v1h-1zM907 702h12v1h-12zM945 702h2v1h-2zM977 702h2v1h-2zM1037 702h1v1h-1zM1140 702h2v1h-2zM1151 702h1v1h-1zM1162 702h5v1h-5zM1191 702h1v1h-1zM1208 702h1v1h-1zM600 703h1v1h-1zM618 703h3v1h-3zM679 703h3v1h-3zM685 703h4v1h-4zM693 703h4v1h-4zM701 703h2v1h-2zM708 703h1v1h-1zM907 703h1v1h-1zM947 703h12v1h-12zM975 703h2v1h-2zM1038 703h1v1h-1zM1138 703h2v1h-2zM1152 703h1v1h-1zM1159 703h3v1h-3zM1191 703h1v1h-1zM1207 703h1v1h-1zM599 704h1v1h-1zM682 704h3v1h-3zM697 704h4v1h-4zM709 704h1v1h-1zM906 704h1v1h-1zM959 704h6v1h-6zM974 704h1v1h-1zM1038 704h1v1h-1zM1136 704h2v1h-2zM1153 704h2v1h-2zM1157 704h2v1h-2zM1192 704h1v1h-1zM1205 704h2v1h-2zM599 705h1v1h-1zM709 705h1v1h-1zM906 705h1v1h-1zM965 705h4v1h-4zM972 705h2v1h-2zM1039 705h1v1h-1zM1134 705h2v1h-2zM1155 705h2v1h-2zM1193 705h1v1h-1zM1204 705h1v1h-1zM598 706h1v1h-1zM710 706h1v1h-1zM905 706h1v1h-1zM969 706h3v1h-3zM1039 706h1v1h-1zM1132 706h2v1h-2zM1193 706h1v1h-1zM1202 706h2v1h-2zM597 707h1v1h-1zM710 707h1v1h-1zM905 707h1v1h-1zM1040 707h1v1h-1zM1131 707h1v1h-1zM1194 707h1v1h-1zM1199 707h3v1h-3zM419 708h4v1h-4zM459 708h1v1h-1zM596 708h1v1h-1zM711 708h1v1h-1zM905 708h1v1h-1zM1040 708h1v1h-1zM1059 708h2v1h-2zM1106 708h2v1h-2zM1129 708h2v1h-2zM1194 708h1v1h-1zM1197 708h2v1h-2zM417 709h2v1h-2zM423 709h6v1h-6zM457 709h2v1h-2zM460 709h2v1h-2zM571 709h2v1h-2zM586 709h10v1h-10zM711 709h1v1h-1zM904 709h1v1h-1zM1041 709h1v1h-1zM1057 709h2v1h-2zM1061 709h2v1h-2zM1090 709h3v1h-3zM1103 709h3v1h-3zM1108 709h1v1h-1zM1127 709h2v1h-2zM1195 709h2v1h-2zM415 710h2v1h-2zM429 710h2v1h-2zM456 710h1v1h-1zM462 710h1v1h-1zM555 710h1v1h-1zM569 710h2v1h-2zM573 710h2v1h-2zM583 710h3v1h-3zM712 710h1v1h-1zM904 710h1v1h-1zM1041 710h1v1h-1zM1055 710h2v1h-2zM1063 710h3v1h-3zM1087 710h3v1h-3zM1093 710h4v1h-4zM1101 710h2v1h-2zM1109 710h1v1h-1zM1126 710h1v1h-1zM367 711h8v1h-8zM414 711h1v1h-1zM431 711h3v1h-3zM455 711h1v1h-1zM463 711h2v1h-2zM479 711h5v1h-5zM554 711h1v1h-1zM556 711h2v1h-2zM567 711h2v1h-2zM575 711h3v1h-3zM581 711h2v1h-2zM712 711h1v1h-1zM904 711h1v1h-1zM1042 711h1v1h-1zM1054 711h1v1h-1zM1066 711h2v1h-2zM1085 711h2v1h-2zM1097 711h4v1h-4zM1110 711h1v1h-1zM1124 711h2v1h-2zM3 712h1v1h-1zM331 712h12v1h-12zM359 712h8v1h-8zM375 712h6v1h-6zM412 712h2v1h-2zM434 712h2v1h-2zM453 712h2v1h-2zM465 712h2v1h-2zM471 712h8v1h-8zM484 712h1v1h-1zM553 712h1v1h-1zM558 712h2v1h-2zM566 712h1v1h-1zM578 712h3v1h-3zM713 712h1v1h-1zM903 712h1v1h-1zM1042 712h1v1h-1zM1052 712h2v1h-2zM1068 712h1v1h-1zM1083 712h2v1h-2zM1111 712h2v1h-2zM1122 712h2v1h-2zM4 713h1v1h-1zM330 713h1v1h-1zM343 713h16v1h-16zM381 713h4v1h-4zM410 713h2v1h-2zM436 713h1v1h-1zM452 713h1v1h-1zM467 713h4v1h-4zM484 713h1v1h-1zM515 713h2v1h-2zM551 713h2v1h-2zM560 713h2v1h-2zM564 713h2v1h-2zM713 713h1v1h-1zM767 713h6v1h-6zM903 713h1v1h-1zM1043 713h9v1h-9zM1068 713h1v1h-1zM1082 713h1v1h-1zM1113 713h1v1h-1zM1119 713h3v1h-3zM4 714h1v1h-1zM329 714h1v1h-1zM385 714h6v1h-6zM408 714h2v1h-2zM437 714h2v1h-2zM450 714h2v1h-2zM485 714h1v1h-1zM513 714h2v1h-2zM517 714h2v1h-2zM550 714h1v1h-1zM562 714h2v1h-2zM714 714h1v1h-1zM763 714h4v1h-4zM773 714h2v1h-2zM902 714h1v1h-1zM1069 714h1v1h-1zM1082 714h1v1h-1zM1114 714h1v1h-1zM1117 714h2v1h-2zM5 715h1v1h-1zM327 715h2v1h-2zM391 715h6v1h-6zM406 715h2v1h-2zM439 715h1v1h-1zM448 715h2v1h-2zM486 715h1v1h-1zM512 715h1v1h-1zM519 715h3v1h-3zM527 715h6v1h-6zM549 715h1v1h-1zM714 715h1v1h-1zM747 715h1v1h-1zM761 715h2v1h-2zM775 715h3v1h-3zM902 715h1v1h-1zM1070 715h1v1h-1zM1081 715h1v1h-1zM1115 715h2v1h-2zM5 716h1v1h-1zM306 716h3v1h-3zM326 716h1v1h-1zM397 716h4v1h-4zM404 716h2v1h-2zM440 716h1v1h-1zM446 716h2v1h-2zM487 716h1v1h-1zM511 716h1v1h-1zM522 716h5v1h-5zM533 716h4v1h-4zM548 716h1v1h-1zM715 716h1v1h-1zM746 716h1v1h-1zM748 716h2v1h-2zM759 716h2v1h-2zM778 716h18v1h-18zM902 716h1v1h-1zM1070 716h1v1h-1zM1080 716h1v1h-1zM6 717h1v1h-1zM235 717h1v1h-1zM304 717h2v1h-2zM309 717h4v1h-4zM325 717h1v1h-1zM401 717h3v1h-3zM441 717h2v1h-2zM444 717h2v1h-2zM487 717h1v1h-1zM509 717h2v1h-2zM537 717h11v1h-11zM715 717h4v1h-4zM727 717h5v1h-5zM745 717h1v1h-1zM750 717h2v1h-2zM758 717h1v1h-1zM796 717h1v1h-1zM901 717h1v1h-1zM1071 717h1v1h-1zM1079 717h1v1h-1zM6 718h1v1h-1zM33 718h11v1h-11zM234 718h1v1h-1zM236 718h2v1h-2zM302 718h2v1h-2zM313 718h6v1h-6zM324 718h1v1h-1zM443 718h1v1h-1zM488 718h1v1h-1zM498 718h5v1h-5zM508 718h1v1h-1zM719 718h8v1h-8zM732 718h1v1h-1zM744 718h1v1h-1zM752 718h2v1h-2zM756 718h2v1h-2zM797 718h2v1h-2zM901 718h1v1h-1zM1072 718h1v1h-1zM1079 718h1v1h-1zM7 719h1v1h-1zM29 719h4v1h-4zM44 719h2v1h-2zM233 719h1v1h-1zM238 719h1v1h-1zM300 719h2v1h-2zM319 719h5v1h-5zM489 719h1v1h-1zM496 719h2v1h-2zM503 719h5v1h-5zM733 719h2v1h-2zM743 719h1v1h-1zM754 719h2v1h-2zM799 719h1v1h-1zM901 719h1v1h-1zM1072 719h1v1h-1zM1078 719h1v1h-1zM8 720h1v1h-1zM27 720h2v1h-2zM46 720h1v1h-1zM231 720h2v1h-2zM239 720h2v1h-2zM282 720h3v1h-3zM298 720h2v1h-2zM490 720h1v1h-1zM494 720h2v1h-2zM735 720h1v1h-1zM742 720h1v1h-1zM800 720h1v1h-1zM900 720h1v1h-1zM1073 720h1v1h-1zM1077 720h1v1h-1zM8 721h1v1h-1zM26 721h1v1h-1zM47 721h2v1h-2zM230 721h1v1h-1zM241 721h2v1h-2zM279 721h3v1h-3zM285 721h2v1h-2zM295 721h3v1h-3zM490 721h1v1h-1zM492 721h2v1h-2zM736 721h1v1h-1zM741 721h1v1h-1zM801 721h2v1h-2zM900 721h1v1h-1zM1074 721h1v1h-1zM1076 721h1v1h-1zM9 722h1v1h-1zM25 722h1v1h-1zM49 722h2v1h-2zM209 722h12v1h-12zM229 722h1v1h-1zM243 722h1v1h-1zM263 722h8v1h-8zM277 722h2v1h-2zM287 722h3v1h-3zM293 722h2v1h-2zM491 722h1v1h-1zM737 722h2v1h-2zM740 722h1v1h-1zM803 722h1v1h-1zM899 722h1v1h-1zM1074 722h1v1h-1zM1076 722h1v1h-1zM9 723h1v1h-1zM23 723h2v1h-2zM51 723h1v1h-1zM205 723h4v1h-4zM221 723h4v1h-4zM228 723h1v1h-1zM244 723h2v1h-2zM258 723h5v1h-5zM271 723h6v1h-6zM290 723h3v1h-3zM739 723h1v1h-1zM804 723h1v1h-1zM895 723h5v1h-5zM1075 723h1v1h-1zM10 724h1v1h-1zM22 724h1v1h-1zM52 724h1v1h-1zM203 724h2v1h-2zM225 724h3v1h-3zM246 724h2v1h-2zM255 724h3v1h-3zM805 724h1v1h-1zM887 724h8v1h-8zM10 725h1v1h-1zM21 725h1v1h-1zM53 725h1v1h-1zM201 725h2v1h-2zM248 725h2v1h-2zM253 725h2v1h-2zM806 725h1v1h-1zM849 725h4v1h-4zM883 725h4v1h-4zM11 726h4v1h-4zM20 726h1v1h-1zM54 726h1v1h-1zM199 726h2v1h-2zM250 726h3v1h-3zM807 726h1v1h-1zM845 726h4v1h-4zM853 726h4v1h-4zM882 726h1v1h-1zM15 727h5v1h-5zM55 727h2v1h-2zM66 727h2v1h-2zM83 727h1v1h-1zM198 727h1v1h-1zM807 727h1v1h-1zM843 727h2v1h-2zM857 727h6v1h-6zM881 727h1v1h-1zM57 728h1v1h-1zM63 728h3v1h-3zM68 728h1v1h-1zM82 728h1v1h-1zM84 728h2v1h-2zM196 728h2v1h-2zM808 728h1v1h-1zM842 728h1v1h-1zM863 728h5v1h-5zM879 728h2v1h-2zM58 729h1v1h-1zM61 729h2v1h-2zM68 729h1v1h-1zM82 729h1v1h-1zM86 729h1v1h-1zM193 729h3v1h-3zM809 729h1v1h-1zM841 729h1v1h-1zM868 729h2v1h-2zM878 729h1v1h-1zM59 730h2v1h-2zM69 730h1v1h-1zM81 730h1v1h-1zM87 730h2v1h-2zM189 730h4v1h-4zM810 730h1v1h-1zM839 730h2v1h-2zM870 730h2v1h-2zM877 730h1v1h-1zM70 731h1v1h-1zM80 731h1v1h-1zM89 731h2v1h-2zM123 731h1v1h-1zM187 731h2v1h-2zM811 731h1v1h-1zM838 731h1v1h-1zM872 731h2v1h-2zM876 731h1v1h-1zM71 732h1v1h-1zM79 732h1v1h-1zM91 732h1v1h-1zM121 732h2v1h-2zM124 732h2v1h-2zM162 732h3v1h-3zM185 732h2v1h-2zM812 732h2v1h-2zM837 732h1v1h-1zM874 732h2v1h-2zM71 733h1v1h-1zM79 733h1v1h-1zM92 733h1v1h-1zM120 733h1v1h-1zM126 733h1v1h-1zM160 733h2v1h-2zM165 733h2v1h-2zM184 733h1v1h-1zM814 733h1v1h-1zM836 733h1v1h-1zM72 734h1v1h-1zM78 734h1v1h-1zM93 734h2v1h-2zM119 734h1v1h-1zM127 734h2v1h-2zM158 734h2v1h-2zM167 734h3v1h-3zM183 734h1v1h-1zM815 734h2v1h-2zM833 734h3v1h-3zM73 735h1v1h-1zM77 735h1v1h-1zM95 735h1v1h-1zM106 735h3v1h-3zM117 735h2v1h-2zM129 735h2v1h-2zM156 735h2v1h-2zM170 735h3v1h-3zM181 735h2v1h-2zM817 735h2v1h-2zM829 735h4v1h-4zM74 736h1v1h-1zM76 736h1v1h-1zM96 736h1v1h-1zM103 736h3v1h-3zM109 736h4v1h-4zM116 736h1v1h-1zM131 736h1v1h-1zM151 736h5v1h-5zM173 736h4v1h-4zM180 736h1v1h-1zM819 736h10v1h-10zM74 737h1v1h-1zM76 737h1v1h-1zM97 737h2v1h-2zM101 737h2v1h-2zM113 737h3v1h-3zM132 737h2v1h-2zM146 737h5v1h-5zM177 737h3v1h-3zM75 738h1v1h-1zM99 738h2v1h-2zM134 738h1v1h-1zM144 738h2v1h-2zM135 739h2v1h-2zM142 739h2v1h-2zM137 740h2v1h-2zM140 740h2v1h-2zM139 741h1v1h-1z" fill="#1E90FF" shape-rendering="crispEdges" />
</g>
<text x="6.8" y="674" font-size="9.6" fill="#000" stroke="#000" stroke-width="0.2" textLength="68.8" lengthAdjust="spacingAndGlyphs" >RSI(14) 87.4519</text>
<text x="1692.1" y="672" font-size="9.6" fill="#000" stroke="#000" stroke-width="0.2" textLength="14.8" lengthAdjust="spacingAndGlyphs" >100</text>
<text x="1691.0" y="700" font-size="9.6" fill="#000" stroke="#000" stroke-width="0.2" textLength="10.27" lengthAdjust="spacingAndGlyphs" >70</text>
<text x="1691.0" y="744" font-size="9.6" fill="#000" stroke="#000" stroke-width="0.2" textLength="10.27" lengthAdjust="spacingAndGlyphs" >30</text>
<text x="1692.2" y="771" font-size="9.6" fill="#000" stroke="#000" stroke-width="0.2" textLength="5.14" lengthAdjust="spacingAndGlyphs" >0</text>
<text x="1.5" y="787" font-size="9.6" fill="#000" stroke="#000" stroke-width="0.2" textLength="47.5" lengthAdjust="spacingAndGlyphs" >6 Mar 2020</text>
<text x="65.9" y="787" font-size="9.6" fill="#000" stroke="#000" stroke-width="0.2" textLength="55.2" lengthAdjust="spacingAndGlyphs" >12 Mar 05:00</text>
<text x="130.2" y="787" font-size="9.6" fill="#000" stroke="#000" stroke-width="0.2" textLength="54.8" lengthAdjust="spacingAndGlyphs" >18 Mar 05:00</text>
<text x="194.1" y="787" font-size="9.6" fill="#000" stroke="#000" stroke-width="0.2" textLength="55.1" lengthAdjust="spacingAndGlyphs" >24 Mar 05:00</text>
<text x="257.9" y="787" font-size="9.6" fill="#000" stroke="#000" stroke-width="0.2" textLength="55.2" lengthAdjust="spacingAndGlyphs" >30 Mar 05:00</text>
<text x="321.8" y="787" font-size="9.6" fill="#000" stroke="#000" stroke-width="0.2" textLength="49.3" lengthAdjust="spacingAndGlyphs" >3 Apr 05:00</text>
<text x="386.1" y="787" font-size="9.6" fill="#000" stroke="#000" stroke-width="0.2" textLength="54.2" lengthAdjust="spacingAndGlyphs" >10 Apr 05:00</text>
<text x="450.3" y="787" font-size="9.6" fill="#000" stroke="#000" stroke-width="0.2" textLength="53.8" lengthAdjust="spacingAndGlyphs" >16 Apr 05:00</text>
<text x="514.4" y="787" font-size="9.6" fill="#000" stroke="#000" stroke-width="0.2" textLength="53.6" lengthAdjust="spacingAndGlyphs" >22 Apr 05:00</text>
<text x="578.6" y="787" font-size="9.6" fill="#000" stroke="#000" stroke-width="0.2" textLength="53.7" lengthAdjust="spacingAndGlyphs" >28 Apr 05:00</text>
<text x="641.8" y="787" font-size="9.6" fill="#000" stroke="#000" stroke-width="0.2" textLength="53.7" lengthAdjust="spacingAndGlyphs" >7 May 05:00</text>
<text x="706.1" y="787" font-size="9.6" fill="#000" stroke="#000" stroke-width="0.2" textLength="58.0" lengthAdjust="spacingAndGlyphs" >13 May 05:00</text>
<text x="770.3" y="787" font-size="9.6" fill="#000" stroke="#000" stroke-width="0.2" textLength="57.7" lengthAdjust="spacingAndGlyphs" >19 May 05:00</text>
<text x="833.8" y="787" font-size="9.6" fill="#000" stroke="#000" stroke-width="0.2" textLength="58.0" lengthAdjust="spacingAndGlyphs" >25 May 05:00</text>
<text x="897.7" y="787" font-size="9.6" fill="#000" stroke="#000" stroke-width="0.2" textLength="58.0" lengthAdjust="spacingAndGlyphs" >29 May 05:00</text>
<text x="961.8" y="787" font-size="9.6" fill="#000" stroke="#000" stroke-width="0.2" textLength="48.4" lengthAdjust="spacingAndGlyphs" >4 Jun 05:00</text>
<text x="1026.3" y="787" font-size="9.6" fill="#000" stroke="#000" stroke-width="0.2" textLength="52.6" lengthAdjust="spacingAndGlyphs" >10 Jun 05:00</text>
<text x="1089.8" y="787" font-size="9.6" fill="#000" stroke="#000" stroke-width="0.2" textLength="53.3" lengthAdjust="spacingAndGlyphs" >16 Jun 05:00</text>
<text x="1154.0" y="787" font-size="9.6" fill="#000" stroke="#000" stroke-width="0.2" textLength="53.3" lengthAdjust="spacingAndGlyphs" >22 Jun 05:00</text>
<text x="1217.8" y="787" font-size="9.6" fill="#000" stroke="#000" stroke-width="0.2" textLength="53.1" lengthAdjust="spacingAndGlyphs" >30 Jun 05:00</text>
<text x="1281.8" y="787" font-size="9.6" fill="#000" stroke="#000" stroke-width="0.2" textLength="45.4" lengthAdjust="spacingAndGlyphs" >6 Jul 05:00</text>
<text x="1332.7" y="451" font-size="38" fill="#E8141E" textLength="182.5" lengthAdjust="spacingAndGlyphs" style="font-family:&quot;Noto Sans CJK SC&quot;,sans-serif;font-weight:350">多空转折点</text>
<text x="1512.6" y="449" font-size="38" fill="#E8141E" textLength="85.5" lengthAdjust="spacingAndGlyphs" style="font-family:&quot;Liberation Sans&quot;,sans-serif">4800</text>
</svg></body></html>
